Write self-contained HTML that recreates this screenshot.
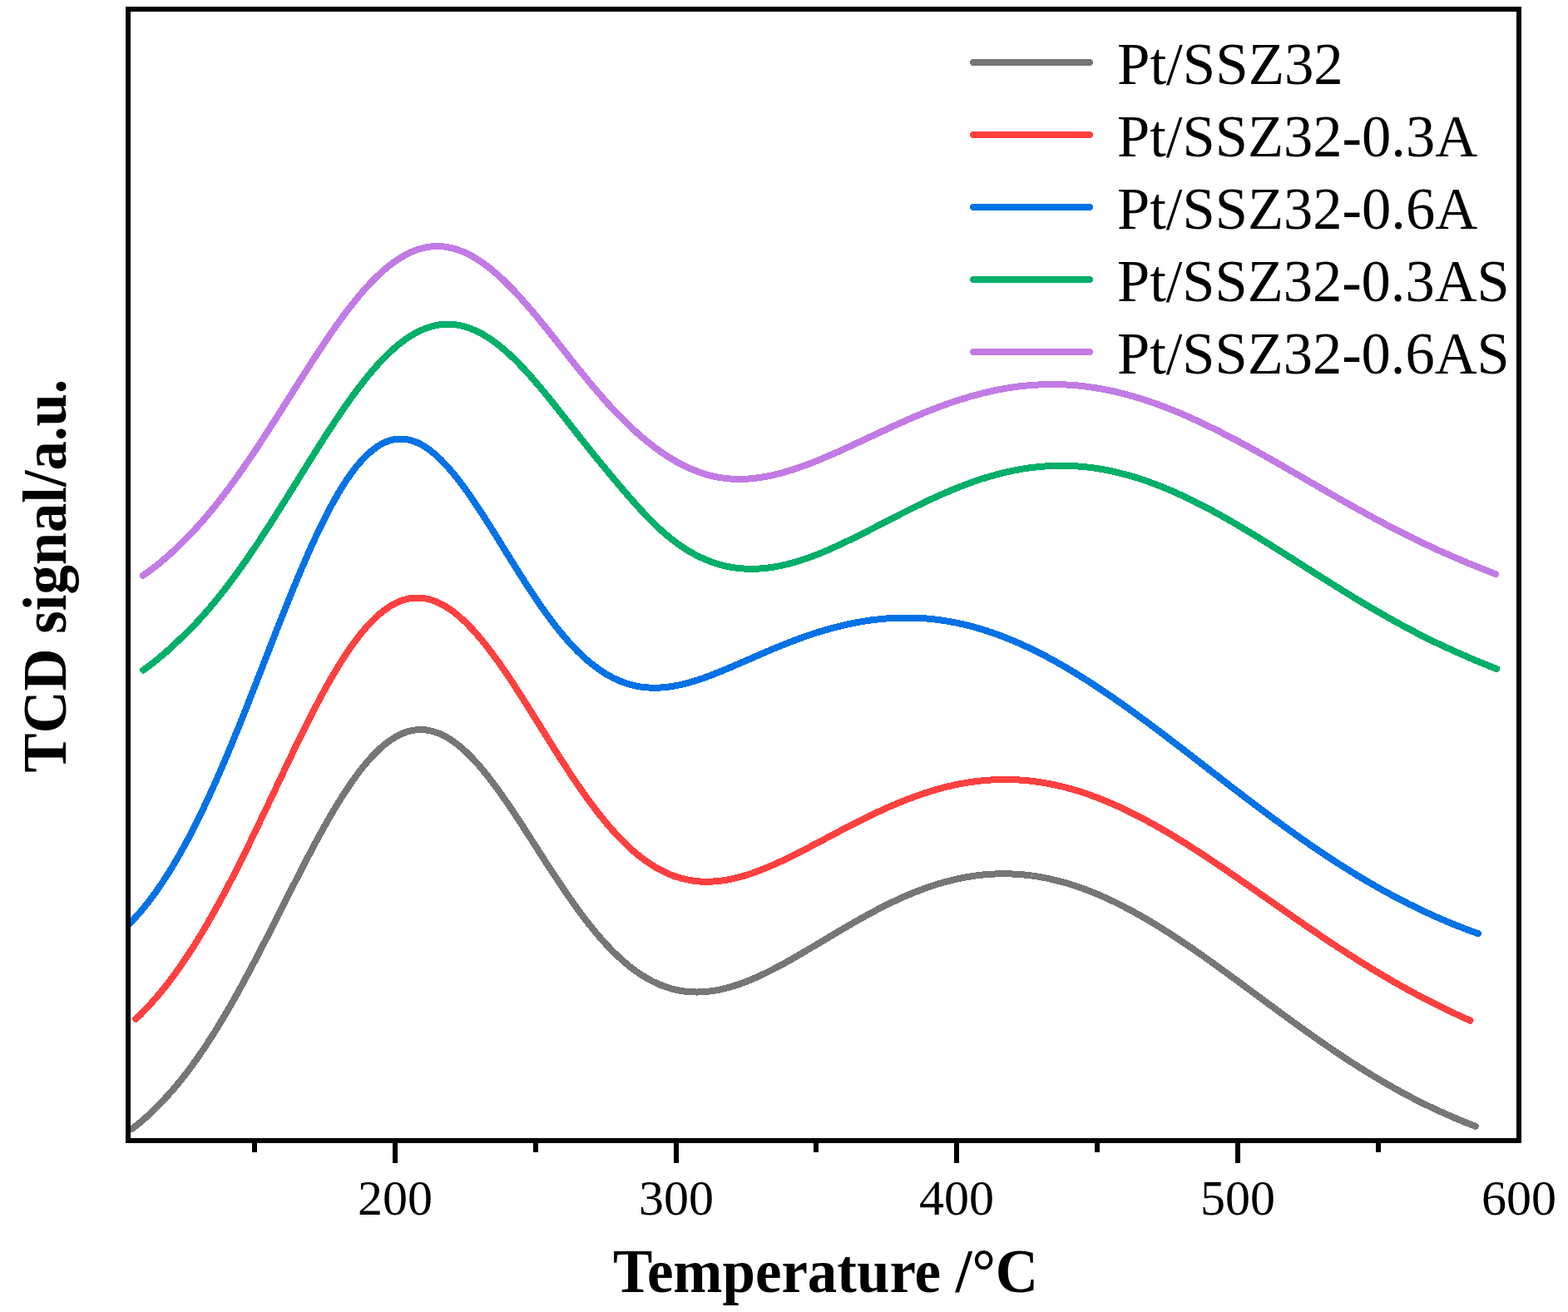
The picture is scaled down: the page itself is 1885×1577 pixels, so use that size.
<!DOCTYPE html>
<html><head><meta charset="utf-8"><style>
html,body{margin:0;padding:0;background:#fff;width:1885px;height:1577px;overflow:hidden}
svg{display:block}
text{font-family:"Liberation Serif","Times New Roman",serif;fill:#000}
</style></head><body>
<svg width="1885" height="1577" viewBox="0 0 1885 1577" shape-rendering="crispEdges">
<rect width="1885" height="1577" fill="#fff"/>
<defs><clipPath id="pa"><rect x="157" y="14" width="1666" height="1354"/></clipPath></defs>
<g fill="none" stroke-width="8" stroke-linecap="round" stroke-linejoin="round" clip-path="url(#pa)">
<path d="M158.5,1357.0 L160.5,1355.5 L162.5,1353.9 L164.5,1352.4 L166.5,1350.7 L168.5,1349.1 L170.5,1347.4 L172.5,1345.7 L174.5,1343.9 L176.5,1342.2 L178.5,1340.3 L180.5,1338.5 L182.5,1336.6 L184.5,1334.7 L186.5,1332.7 L188.5,1330.7 L190.5,1328.7 L192.5,1326.6 L194.5,1324.5 L196.5,1322.4 L198.5,1320.2 L200.5,1318.1 L202.5,1315.9 L204.5,1313.6 L206.5,1311.4 L208.5,1309.1 L210.5,1306.7 L212.5,1304.3 L214.5,1301.9 L216.5,1299.5 L218.5,1297.0 L220.5,1294.4 L222.5,1291.9 L224.5,1289.3 L226.5,1286.6 L228.5,1284.0 L230.5,1281.3 L232.5,1278.5 L234.5,1275.7 L236.5,1272.9 L238.5,1270.1 L240.5,1267.2 L242.5,1264.3 L244.5,1261.3 L246.5,1258.3 L248.5,1255.3 L250.5,1252.2 L252.5,1249.2 L254.5,1246.0 L256.5,1242.9 L258.5,1239.7 L260.5,1236.5 L262.5,1233.2 L264.5,1229.9 L266.5,1226.6 L268.5,1223.3 L270.5,1219.9 L272.5,1216.5 L274.5,1213.1 L276.5,1209.6 L278.5,1206.1 L280.5,1202.6 L282.5,1199.0 L284.5,1195.5 L286.5,1191.9 L288.5,1188.3 L290.5,1184.6 L292.5,1180.9 L294.5,1177.3 L296.5,1173.5 L298.5,1169.8 L300.5,1166.1 L302.5,1162.3 L304.5,1158.5 L306.5,1154.7 L308.5,1150.9 L310.5,1147.0 L312.5,1143.2 L314.5,1139.3 L316.5,1135.4 L318.5,1131.5 L320.5,1127.6 L322.5,1123.7 L324.5,1119.8 L326.5,1115.8 L328.5,1111.9 L330.5,1107.9 L332.5,1104.0 L334.5,1100.0 L336.5,1096.1 L338.5,1092.1 L340.5,1088.2 L342.5,1084.2 L344.5,1080.2 L346.5,1076.3 L348.5,1072.3 L350.5,1068.4 L352.5,1064.4 L354.5,1060.5 L356.5,1056.6 L358.5,1052.7 L360.5,1048.8 L362.5,1044.9 L364.5,1041.0 L366.5,1037.1 L368.5,1033.3 L370.5,1029.5 L372.5,1025.7 L374.5,1021.9 L376.5,1018.1 L378.5,1014.4 L380.5,1010.6 L382.5,1007.0 L384.5,1003.3 L386.5,999.7 L388.5,996.0 L390.5,992.5 L392.5,988.9 L394.5,985.4 L396.5,981.9 L398.5,978.5 L400.5,975.1 L402.5,971.7 L404.5,968.4 L406.5,965.1 L408.5,961.9 L410.5,958.7 L412.5,955.6 L414.5,952.5 L416.5,949.4 L418.5,946.4 L420.5,943.5 L422.5,940.6 L424.5,937.7 L426.5,934.9 L428.5,932.2 L430.5,929.5 L432.5,926.8 L434.5,924.3 L436.5,921.8 L438.5,919.3 L440.5,916.9 L442.5,914.6 L444.5,912.3 L446.5,910.1 L448.5,908.0 L450.5,905.9 L452.5,903.9 L454.5,902.0 L456.5,900.1 L458.5,898.3 L460.5,896.6 L462.5,894.9 L464.5,893.3 L466.5,891.8 L468.5,890.3 L470.5,889.0 L472.5,887.7 L474.5,886.4 L476.5,885.3 L478.5,884.2 L480.5,883.2 L482.5,882.3 L484.5,881.4 L486.5,880.6 L488.5,879.9 L490.5,879.3 L492.5,878.8 L494.5,878.3 L496.5,877.9 L498.5,877.6 L500.5,877.3 L502.5,877.2 L504.5,877.1 L506.5,877.1 L508.5,877.1 L510.5,877.3 L512.5,877.5 L514.5,877.8 L516.5,878.2 L518.5,878.6 L520.5,879.1 L522.5,879.7 L524.5,880.4 L526.5,881.1 L528.5,881.9 L530.5,882.8 L532.5,883.7 L534.5,884.8 L536.5,885.8 L538.5,887.0 L540.5,888.2 L542.5,889.5 L544.5,890.9 L546.5,892.3 L548.5,893.8 L550.5,895.4 L552.5,897.0 L554.5,898.7 L556.5,900.4 L558.5,902.2 L560.5,904.1 L562.5,906.0 L564.5,908.0 L566.5,910.0 L568.5,912.1 L570.5,914.2 L572.5,916.4 L574.5,918.7 L576.5,920.9 L578.5,923.3 L580.5,925.7 L582.5,928.1 L584.5,930.6 L586.5,933.1 L588.5,935.6 L590.5,938.2 L592.5,940.9 L594.5,943.5 L596.5,946.2 L598.5,949.0 L600.5,951.8 L602.5,954.6 L604.5,957.4 L606.5,960.3 L608.5,963.2 L610.5,966.1 L612.5,969.0 L614.5,972.0 L616.5,975.0 L618.5,978.0 L620.5,981.0 L622.5,984.0 L624.5,987.1 L626.5,990.1 L628.5,993.2 L630.5,996.3 L632.5,999.4 L634.5,1002.5 L636.5,1005.6 L638.5,1008.7 L640.5,1011.8 L642.5,1015.0 L644.5,1018.1 L646.5,1021.2 L648.5,1024.3 L650.5,1027.5 L652.5,1030.6 L654.5,1033.7 L656.5,1036.8 L658.5,1039.9 L660.5,1043.0 L662.5,1046.0 L664.5,1049.1 L666.5,1052.2 L668.5,1055.2 L670.5,1058.2 L672.5,1061.2 L674.5,1064.2 L676.5,1067.2 L678.5,1070.1 L680.5,1073.0 L682.5,1075.9 L684.5,1078.8 L686.5,1081.7 L688.5,1084.5 L690.5,1087.3 L692.5,1090.1 L694.5,1092.9 L696.5,1095.6 L698.5,1098.3 L700.5,1101.0 L702.5,1103.6 L704.5,1106.2 L706.5,1108.8 L708.5,1111.3 L710.5,1113.8 L712.5,1116.3 L714.5,1118.8 L716.5,1121.2 L718.5,1123.5 L720.5,1125.9 L722.5,1128.2 L724.5,1130.4 L726.5,1132.7 L728.5,1134.9 L730.5,1137.0 L732.5,1139.1 L734.5,1141.2 L736.5,1143.2 L738.5,1145.2 L740.5,1147.1 L742.5,1149.1 L744.5,1150.9 L746.5,1152.7 L748.5,1154.5 L750.5,1156.3 L752.5,1158.0 L754.5,1159.6 L756.5,1161.3 L758.5,1162.8 L760.5,1164.4 L762.5,1165.9 L764.5,1167.3 L766.5,1168.7 L768.5,1170.1 L770.5,1171.4 L772.5,1172.7 L774.5,1173.9 L776.5,1175.1 L778.5,1176.3 L780.5,1177.4 L782.5,1178.5 L784.5,1179.5 L786.5,1180.5 L788.5,1181.4 L790.5,1182.4 L792.5,1183.2 L794.5,1184.0 L796.5,1184.8 L798.5,1185.6 L800.5,1186.3 L802.5,1186.9 L804.5,1187.6 L806.5,1188.2 L808.5,1188.7 L810.5,1189.2 L812.5,1189.7 L814.5,1190.1 L816.5,1190.5 L818.5,1190.9 L820.5,1191.2 L822.5,1191.5 L824.5,1191.7 L826.5,1191.9 L828.5,1192.1 L830.5,1192.2 L832.5,1192.3 L834.5,1192.4 L836.5,1192.5 L838.5,1192.5 L840.5,1192.4 L842.5,1192.4 L844.5,1192.3 L846.5,1192.2 L848.5,1192.0 L850.5,1191.8 L852.5,1191.6 L854.5,1191.3 L856.5,1191.1 L858.5,1190.8 L860.5,1190.4 L862.5,1190.1 L864.5,1189.7 L866.5,1189.3 L868.5,1188.8 L870.5,1188.3 L872.5,1187.9 L874.5,1187.3 L876.5,1186.8 L878.5,1186.2 L880.5,1185.6 L882.5,1185.0 L884.5,1184.4 L886.5,1183.7 L888.5,1183.0 L890.5,1182.3 L892.5,1181.6 L894.5,1180.8 L896.5,1180.1 L898.5,1179.3 L900.5,1178.5 L902.5,1177.7 L904.5,1176.8 L906.5,1176.0 L908.5,1175.1 L910.5,1174.2 L912.5,1173.3 L914.5,1172.4 L916.5,1171.4 L918.5,1170.5 L920.5,1169.5 L922.5,1168.5 L924.5,1167.5 L926.5,1166.5 L928.5,1165.5 L930.5,1164.5 L932.5,1163.4 L934.5,1162.4 L936.5,1161.3 L938.5,1160.2 L940.5,1159.2 L942.5,1158.1 L944.5,1157.0 L946.5,1155.9 L948.5,1154.7 L950.5,1153.6 L952.5,1152.5 L954.5,1151.3 L956.5,1150.2 L958.5,1149.0 L960.5,1147.9 L962.5,1146.7 L964.5,1145.5 L966.5,1144.4 L968.5,1143.2 L970.5,1142.0 L972.5,1140.8 L974.5,1139.6 L976.5,1138.4 L978.5,1137.3 L980.5,1136.1 L982.5,1134.9 L984.5,1133.7 L986.5,1132.5 L988.5,1131.3 L990.5,1130.1 L992.5,1128.9 L994.5,1127.7 L996.5,1126.5 L998.5,1125.3 L1000.5,1124.1 L1002.5,1122.9 L1004.5,1121.7 L1006.5,1120.5 L1008.5,1119.3 L1010.5,1118.2 L1012.5,1117.0 L1014.5,1115.8 L1016.5,1114.6 L1018.5,1113.5 L1020.5,1112.3 L1022.5,1111.1 L1024.5,1110.0 L1026.5,1108.8 L1028.5,1107.7 L1030.5,1106.6 L1032.5,1105.4 L1034.5,1104.3 L1036.5,1103.2 L1038.5,1102.1 L1040.5,1101.0 L1042.5,1099.9 L1044.5,1098.8 L1046.5,1097.7 L1048.5,1096.6 L1050.5,1095.6 L1052.5,1094.5 L1054.5,1093.5 L1056.5,1092.4 L1058.5,1091.4 L1060.5,1090.4 L1062.5,1089.4 L1064.5,1088.4 L1066.5,1087.4 L1068.5,1086.4 L1070.5,1085.4 L1072.5,1084.4 L1074.5,1083.5 L1076.5,1082.6 L1078.5,1081.6 L1080.5,1080.7 L1082.5,1079.8 L1084.5,1078.9 L1086.5,1078.0 L1088.5,1077.1 L1090.5,1076.3 L1092.5,1075.4 L1094.5,1074.6 L1096.5,1073.8 L1098.5,1073.0 L1100.5,1072.1 L1102.5,1071.4 L1104.5,1070.6 L1106.5,1069.8 L1108.5,1069.1 L1110.5,1068.3 L1112.5,1067.6 L1114.5,1066.9 L1116.5,1066.2 L1118.5,1065.5 L1120.5,1064.9 L1122.5,1064.2 L1124.5,1063.6 L1126.5,1062.9 L1128.5,1062.3 L1130.5,1061.7 L1132.5,1061.1 L1134.5,1060.6 L1136.5,1060.0 L1138.5,1059.5 L1140.5,1059.0 L1142.5,1058.4 L1144.5,1057.9 L1146.5,1057.5 L1148.5,1057.0 L1150.5,1056.6 L1152.5,1056.1 L1154.5,1055.7 L1156.5,1055.3 L1158.5,1054.9 L1160.5,1054.5 L1162.5,1054.2 L1164.5,1053.8 L1166.5,1053.5 L1168.5,1053.2 L1170.5,1052.9 L1172.5,1052.6 L1174.5,1052.3 L1176.5,1052.1 L1178.5,1051.9 L1180.5,1051.6 L1182.5,1051.4 L1184.5,1051.3 L1186.5,1051.1 L1188.5,1050.9 L1190.5,1050.8 L1192.5,1050.7 L1194.5,1050.6 L1196.5,1050.5 L1198.5,1050.4 L1200.5,1050.3 L1202.5,1050.3 L1204.5,1050.3 L1206.5,1050.3 L1208.5,1050.3 L1210.5,1050.3 L1212.5,1050.3 L1214.5,1050.4 L1216.5,1050.5 L1218.5,1050.6 L1220.5,1050.7 L1222.5,1050.8 L1224.5,1050.9 L1226.5,1051.1 L1228.5,1051.2 L1230.5,1051.4 L1232.5,1051.6 L1234.5,1051.8 L1236.5,1052.1 L1238.5,1052.3 L1240.5,1052.6 L1242.5,1052.8 L1244.5,1053.1 L1246.5,1053.4 L1248.5,1053.8 L1250.5,1054.1 L1252.5,1054.5 L1254.5,1054.8 L1256.5,1055.2 L1258.5,1055.6 L1260.5,1056.0 L1262.5,1056.5 L1264.5,1056.9 L1266.5,1057.4 L1268.5,1057.9 L1270.5,1058.4 L1272.5,1058.9 L1274.5,1059.4 L1276.5,1059.9 L1278.5,1060.5 L1280.5,1061.0 L1282.5,1061.6 L1284.5,1062.2 L1286.5,1062.8 L1288.5,1063.5 L1290.5,1064.1 L1292.5,1064.8 L1294.5,1065.4 L1296.5,1066.1 L1298.5,1066.8 L1300.5,1067.5 L1302.5,1068.2 L1304.5,1069.0 L1306.5,1069.7 L1308.5,1070.5 L1310.5,1071.3 L1312.5,1072.1 L1314.5,1072.9 L1316.5,1073.7 L1318.5,1074.5 L1320.5,1075.4 L1322.5,1076.2 L1324.5,1077.1 L1326.5,1078.0 L1328.5,1078.9 L1330.5,1079.8 L1332.5,1080.7 L1334.5,1081.6 L1336.5,1082.6 L1338.5,1083.5 L1340.5,1084.5 L1342.5,1085.5 L1344.5,1086.5 L1346.5,1087.5 L1348.5,1088.5 L1350.5,1089.5 L1352.5,1090.5 L1354.5,1091.6 L1356.5,1092.6 L1358.5,1093.7 L1360.5,1094.8 L1362.5,1095.9 L1364.5,1097.0 L1366.5,1098.1 L1368.5,1099.2 L1370.5,1100.3 L1372.5,1101.5 L1374.5,1102.6 L1376.5,1103.8 L1378.5,1104.9 L1380.5,1106.1 L1382.5,1107.3 L1384.5,1108.5 L1386.5,1109.7 L1388.5,1110.9 L1390.5,1112.1 L1392.5,1113.4 L1394.5,1114.6 L1396.5,1115.9 L1398.5,1117.1 L1400.5,1118.4 L1402.5,1119.7 L1404.5,1120.9 L1406.5,1122.2 L1408.5,1123.5 L1410.5,1124.8 L1412.5,1126.1 L1414.5,1127.4 L1416.5,1128.8 L1418.5,1130.1 L1420.5,1131.4 L1422.5,1132.8 L1424.5,1134.1 L1426.5,1135.5 L1428.5,1136.8 L1430.5,1138.2 L1432.5,1139.6 L1434.5,1140.9 L1436.5,1142.3 L1438.5,1143.7 L1440.5,1145.1 L1442.5,1146.5 L1444.5,1147.9 L1446.5,1149.3 L1448.5,1150.7 L1450.5,1152.1 L1452.5,1153.6 L1454.5,1155.0 L1456.5,1156.4 L1458.5,1157.8 L1460.5,1159.3 L1462.5,1160.7 L1464.5,1162.2 L1466.5,1163.6 L1468.5,1165.1 L1470.5,1166.5 L1472.5,1168.0 L1474.5,1169.4 L1476.5,1170.9 L1478.5,1172.3 L1480.5,1173.8 L1482.5,1175.3 L1484.5,1176.7 L1486.5,1178.2 L1488.5,1179.7 L1490.5,1181.1 L1492.5,1182.6 L1494.5,1184.1 L1496.5,1185.6 L1498.5,1187.1 L1500.5,1188.5 L1502.5,1190.0 L1504.5,1191.5 L1506.5,1193.0 L1508.5,1194.4 L1510.5,1195.9 L1512.5,1197.4 L1514.5,1198.9 L1516.5,1200.4 L1518.5,1201.8 L1520.5,1203.3 L1522.5,1204.8 L1524.5,1206.3 L1526.5,1207.8 L1528.5,1209.2 L1530.5,1210.7 L1532.5,1212.2 L1534.5,1213.7 L1536.5,1215.1 L1538.5,1216.6 L1540.5,1218.1 L1542.5,1219.5 L1544.5,1221.0 L1546.5,1222.5 L1548.5,1223.9 L1550.5,1225.4 L1552.5,1226.8 L1554.5,1228.3 L1556.5,1229.7 L1558.5,1231.2 L1560.5,1232.6 L1562.5,1234.1 L1564.5,1235.5 L1566.5,1236.9 L1568.5,1238.4 L1570.5,1239.8 L1572.5,1241.2 L1574.5,1242.6 L1576.5,1244.0 L1578.5,1245.5 L1580.5,1246.9 L1582.5,1248.3 L1584.5,1249.7 L1586.5,1251.1 L1588.5,1252.5 L1590.5,1253.8 L1592.5,1255.2 L1594.5,1256.6 L1596.5,1258.0 L1598.5,1259.3 L1600.5,1260.7 L1602.5,1262.1 L1604.5,1263.4 L1606.5,1264.8 L1608.5,1266.1 L1610.5,1267.5 L1612.5,1268.8 L1614.5,1270.1 L1616.5,1271.4 L1618.5,1272.8 L1620.5,1274.1 L1622.5,1275.4 L1624.5,1276.7 L1626.5,1278.0 L1628.5,1279.2 L1630.5,1280.5 L1632.5,1281.8 L1634.5,1283.1 L1636.5,1284.3 L1638.5,1285.6 L1640.5,1286.8 L1642.5,1288.1 L1644.5,1289.3 L1646.5,1290.5 L1648.5,1291.8 L1650.5,1293.0 L1652.5,1294.2 L1654.5,1295.4 L1656.5,1296.6 L1658.5,1297.8 L1660.5,1299.0 L1662.5,1300.1 L1664.5,1301.3 L1666.5,1302.5 L1668.5,1303.6 L1670.5,1304.8 L1672.5,1305.9 L1674.5,1307.0 L1676.5,1308.2 L1678.5,1309.3 L1680.5,1310.4 L1682.5,1311.5 L1684.5,1312.6 L1686.5,1313.7 L1688.5,1314.7 L1690.5,1315.8 L1692.5,1316.9 L1694.5,1317.9 L1696.5,1319.0 L1698.5,1320.0 L1700.5,1321.1 L1702.5,1322.1 L1704.5,1323.1 L1706.5,1324.1 L1708.5,1325.1 L1710.5,1326.1 L1712.5,1327.1 L1714.5,1328.1 L1716.5,1329.0 L1718.5,1330.0 L1720.5,1330.9 L1722.5,1331.9 L1724.5,1332.8 L1726.5,1333.7 L1728.5,1334.7 L1730.5,1335.6 L1732.5,1336.5 L1734.5,1337.4 L1736.5,1338.3 L1738.5,1339.2 L1740.5,1340.1 L1742.5,1341.0 L1744.5,1341.8 L1746.5,1342.7 L1748.5,1343.6 L1750.5,1344.4 L1752.5,1345.3 L1754.5,1346.1 L1756.5,1346.9 L1758.5,1347.7 L1760.5,1348.6 L1762.5,1349.4 L1764.5,1350.2 L1766.5,1350.9 L1768.5,1351.7 L1770.5,1352.5 L1772.5,1353.2 L1773.7,1353.7" stroke="#767676"/>
<path d="M163.4,1224.8 L165.4,1222.9 L167.4,1220.9 L169.4,1219.0 L171.4,1216.9 L173.4,1214.9 L175.4,1212.8 L177.4,1210.7 L179.4,1208.5 L181.4,1206.3 L183.4,1204.1 L185.4,1201.8 L187.4,1199.5 L189.4,1197.2 L191.4,1194.8 L193.4,1192.4 L195.4,1190.0 L197.4,1187.5 L199.4,1185.0 L201.4,1182.4 L203.4,1179.8 L205.4,1177.2 L207.4,1174.5 L209.4,1171.8 L211.4,1169.1 L213.4,1166.3 L215.4,1163.5 L217.4,1160.6 L219.4,1157.7 L221.4,1154.8 L223.4,1151.8 L225.4,1148.8 L227.4,1145.8 L229.4,1142.7 L231.4,1139.6 L233.4,1136.5 L235.4,1133.3 L237.4,1130.1 L239.4,1126.8 L241.4,1123.5 L243.4,1120.2 L245.4,1116.8 L247.4,1113.4 L249.4,1110.0 L251.4,1106.5 L253.4,1103.0 L255.4,1099.5 L257.4,1096.0 L259.4,1092.4 L261.4,1088.7 L263.4,1085.1 L265.4,1081.4 L267.4,1077.7 L269.4,1074.0 L271.4,1070.2 L273.4,1066.4 L275.4,1062.6 L277.4,1058.7 L279.4,1054.8 L281.4,1050.9 L283.4,1047.0 L285.4,1043.0 L287.4,1039.1 L289.4,1035.1 L291.4,1031.1 L293.4,1027.0 L295.4,1023.0 L297.4,1018.9 L299.4,1014.8 L301.4,1010.7 L303.4,1006.6 L305.4,1002.4 L307.4,998.3 L309.4,994.1 L311.4,989.9 L313.4,985.7 L315.4,981.5 L317.4,977.3 L319.4,973.1 L321.4,968.9 L323.4,964.7 L325.4,960.5 L327.4,956.2 L329.4,952.0 L331.4,947.8 L333.4,943.5 L335.4,939.3 L337.4,935.1 L339.4,930.9 L341.4,926.7 L343.4,922.4 L345.4,918.2 L347.4,914.1 L349.4,909.9 L351.4,905.7 L353.4,901.6 L355.4,897.4 L357.4,893.3 L359.4,889.2 L361.4,885.1 L363.4,881.1 L365.4,877.0 L367.4,873.0 L369.4,869.0 L371.4,865.1 L373.4,861.1 L375.4,857.2 L377.4,853.4 L379.4,849.5 L381.4,845.7 L383.4,841.9 L385.4,838.2 L387.4,834.5 L389.4,830.8 L391.4,827.2 L393.4,823.6 L395.4,820.0 L397.4,816.5 L399.4,813.1 L401.4,809.7 L403.4,806.3 L405.4,803.0 L407.4,799.7 L409.4,796.5 L411.4,793.3 L413.4,790.2 L415.4,787.2 L417.4,784.2 L419.4,781.2 L421.4,778.3 L423.4,775.5 L425.4,772.7 L427.4,770.0 L429.4,767.4 L431.4,764.8 L433.4,762.3 L435.4,759.8 L437.4,757.4 L439.4,755.1 L441.4,752.8 L443.4,750.6 L445.4,748.5 L447.4,746.4 L449.4,744.4 L451.4,742.5 L453.4,740.7 L455.4,738.9 L457.4,737.2 L459.4,735.5 L461.4,734.0 L463.4,732.5 L465.4,731.1 L467.4,729.7 L469.4,728.5 L471.4,727.3 L473.4,726.2 L475.4,725.1 L477.4,724.2 L479.4,723.3 L481.4,722.4 L483.4,721.7 L485.4,721.1 L487.4,720.5 L489.4,720.0 L491.4,719.5 L493.4,719.2 L495.4,718.9 L497.4,718.7 L499.4,718.6 L501.4,718.5 L503.4,718.5 L505.4,718.6 L507.4,718.8 L509.4,719.0 L511.4,719.4 L513.4,719.8 L515.4,720.2 L517.4,720.8 L519.4,721.4 L521.4,722.1 L523.4,722.8 L525.4,723.6 L527.4,724.5 L529.4,725.5 L531.4,726.5 L533.4,727.6 L535.4,728.8 L537.4,730.0 L539.4,731.3 L541.4,732.7 L543.4,734.1 L545.4,735.6 L547.4,737.2 L549.4,738.8 L551.4,740.5 L553.4,742.2 L555.4,744.0 L557.4,745.8 L559.4,747.7 L561.4,749.7 L563.4,751.7 L565.4,753.8 L567.4,755.9 L569.4,758.1 L571.4,760.3 L573.4,762.6 L575.4,764.9 L577.4,767.3 L579.4,769.7 L581.4,772.1 L583.4,774.6 L585.4,777.2 L587.4,779.8 L589.4,782.4 L591.4,785.0 L593.4,787.7 L595.4,790.5 L597.4,793.2 L599.4,796.0 L601.4,798.9 L603.4,801.7 L605.4,804.6 L607.4,807.5 L609.4,810.5 L611.4,813.5 L613.4,816.5 L615.4,819.5 L617.4,822.5 L619.4,825.6 L621.4,828.7 L623.4,831.8 L625.4,834.9 L627.4,838.0 L629.4,841.1 L631.4,844.3 L633.4,847.5 L635.4,850.6 L637.4,853.8 L639.4,857.0 L641.4,860.2 L643.4,863.4 L645.4,866.6 L647.4,869.8 L649.4,873.0 L651.4,876.2 L653.4,879.4 L655.4,882.7 L657.4,885.9 L659.4,889.1 L661.4,892.2 L663.4,895.4 L665.4,898.6 L667.4,901.8 L669.4,904.9 L671.4,908.1 L673.4,911.2 L675.4,914.3 L677.4,917.4 L679.4,920.5 L681.4,923.6 L683.4,926.6 L685.4,929.7 L687.4,932.7 L689.4,935.7 L691.4,938.6 L693.4,941.6 L695.4,944.5 L697.4,947.4 L699.4,950.3 L701.4,953.1 L703.4,955.9 L705.4,958.7 L707.4,961.5 L709.4,964.2 L711.4,966.9 L713.4,969.6 L715.4,972.2 L717.4,974.8 L719.4,977.4 L721.4,980.0 L723.4,982.5 L725.4,984.9 L727.4,987.4 L729.4,989.8 L731.4,992.1 L733.4,994.5 L735.4,996.8 L737.4,999.0 L739.4,1001.2 L741.4,1003.4 L743.4,1005.5 L745.4,1007.6 L747.4,1009.7 L749.4,1011.7 L751.4,1013.7 L753.4,1015.6 L755.4,1017.5 L757.4,1019.3 L759.4,1021.1 L761.4,1022.9 L763.4,1024.6 L765.4,1026.3 L767.4,1027.9 L769.4,1029.5 L771.4,1031.1 L773.4,1032.6 L775.4,1034.1 L777.4,1035.5 L779.4,1036.9 L781.4,1038.2 L783.4,1039.5 L785.4,1040.8 L787.4,1042.0 L789.4,1043.2 L791.4,1044.3 L793.4,1045.4 L795.4,1046.4 L797.4,1047.4 L799.4,1048.4 L801.4,1049.3 L803.4,1050.2 L805.4,1051.0 L807.4,1051.8 L809.4,1052.6 L811.4,1053.3 L813.4,1054.0 L815.4,1054.6 L817.4,1055.2 L819.4,1055.8 L821.4,1056.3 L823.4,1056.8 L825.4,1057.2 L827.4,1057.6 L829.4,1058.0 L831.4,1058.3 L833.4,1058.6 L835.4,1058.9 L837.4,1059.1 L839.4,1059.3 L841.4,1059.5 L843.4,1059.6 L845.4,1059.7 L847.4,1059.7 L849.4,1059.8 L851.4,1059.7 L853.4,1059.7 L855.4,1059.6 L857.4,1059.5 L859.4,1059.4 L861.4,1059.2 L863.4,1059.0 L865.4,1058.8 L867.4,1058.6 L869.4,1058.3 L871.4,1058.0 L873.4,1057.7 L875.4,1057.3 L877.4,1056.9 L879.4,1056.5 L881.4,1056.1 L883.4,1055.6 L885.4,1055.1 L887.4,1054.6 L889.4,1054.1 L891.4,1053.6 L893.4,1053.0 L895.4,1052.4 L897.4,1051.8 L899.4,1051.2 L901.4,1050.5 L903.4,1049.8 L905.4,1049.1 L907.4,1048.4 L909.4,1047.7 L911.4,1047.0 L913.4,1046.2 L915.4,1045.4 L917.4,1044.6 L919.4,1043.8 L921.4,1043.0 L923.4,1042.2 L925.4,1041.3 L927.4,1040.5 L929.4,1039.6 L931.4,1038.7 L933.4,1037.8 L935.4,1036.9 L937.4,1036.0 L939.4,1035.1 L941.4,1034.1 L943.4,1033.2 L945.4,1032.2 L947.4,1031.3 L949.4,1030.3 L951.4,1029.3 L953.4,1028.3 L955.4,1027.3 L957.4,1026.3 L959.4,1025.3 L961.4,1024.3 L963.4,1023.3 L965.4,1022.2 L967.4,1021.2 L969.4,1020.2 L971.4,1019.1 L973.4,1018.1 L975.4,1017.0 L977.4,1016.0 L979.4,1014.9 L981.4,1013.9 L983.4,1012.8 L985.4,1011.8 L987.4,1010.7 L989.4,1009.7 L991.4,1008.6 L993.4,1007.5 L995.4,1006.5 L997.4,1005.4 L999.4,1004.3 L1001.4,1003.3 L1003.4,1002.2 L1005.4,1001.2 L1007.4,1000.1 L1009.4,999.1 L1011.4,998.0 L1013.4,997.0 L1015.4,995.9 L1017.4,994.9 L1019.4,993.8 L1021.4,992.8 L1023.4,991.8 L1025.4,990.7 L1027.4,989.7 L1029.4,988.7 L1031.4,987.7 L1033.4,986.7 L1035.4,985.7 L1037.4,984.7 L1039.4,983.7 L1041.4,982.7 L1043.4,981.7 L1045.4,980.8 L1047.4,979.8 L1049.4,978.8 L1051.4,977.9 L1053.4,976.9 L1055.4,976.0 L1057.4,975.1 L1059.4,974.1 L1061.4,973.2 L1063.4,972.3 L1065.4,971.4 L1067.4,970.5 L1069.4,969.6 L1071.4,968.8 L1073.4,967.9 L1075.4,967.1 L1077.4,966.2 L1079.4,965.4 L1081.4,964.6 L1083.4,963.7 L1085.4,962.9 L1087.4,962.1 L1089.4,961.4 L1091.4,960.6 L1093.4,959.8 L1095.4,959.1 L1097.4,958.3 L1099.4,957.6 L1101.4,956.9 L1103.4,956.2 L1105.4,955.5 L1107.4,954.8 L1109.4,954.1 L1111.4,953.4 L1113.4,952.8 L1115.4,952.1 L1117.4,951.5 L1119.4,950.9 L1121.4,950.3 L1123.4,949.7 L1125.4,949.1 L1127.4,948.6 L1129.4,948.0 L1131.4,947.5 L1133.4,946.9 L1135.4,946.4 L1137.4,945.9 L1139.4,945.4 L1141.4,944.9 L1143.4,944.5 L1145.4,944.0 L1147.4,943.6 L1149.4,943.2 L1151.4,942.8 L1153.4,942.4 L1155.4,942.0 L1157.4,941.6 L1159.4,941.3 L1161.4,940.9 L1163.4,940.6 L1165.4,940.3 L1167.4,940.0 L1169.4,939.7 L1171.4,939.4 L1173.4,939.2 L1175.4,938.9 L1177.4,938.7 L1179.4,938.5 L1181.4,938.3 L1183.4,938.1 L1185.4,937.9 L1187.4,937.8 L1189.4,937.6 L1191.4,937.5 L1193.4,937.4 L1195.4,937.3 L1197.4,937.2 L1199.4,937.1 L1201.4,937.1 L1203.4,937.0 L1205.4,937.0 L1207.4,937.0 L1209.4,937.0 L1211.4,937.0 L1213.4,937.0 L1215.4,937.1 L1217.4,937.1 L1219.4,937.2 L1221.4,937.3 L1223.4,937.4 L1225.4,937.5 L1227.4,937.6 L1229.4,937.8 L1231.4,937.9 L1233.4,938.1 L1235.4,938.3 L1237.4,938.5 L1239.4,938.7 L1241.4,939.0 L1243.4,939.2 L1245.4,939.5 L1247.4,939.8 L1249.4,940.1 L1251.4,940.4 L1253.4,940.7 L1255.4,941.0 L1257.4,941.4 L1259.4,941.7 L1261.4,942.1 L1263.4,942.5 L1265.4,942.9 L1267.4,943.3 L1269.4,943.7 L1271.4,944.2 L1273.4,944.7 L1275.4,945.1 L1277.4,945.6 L1279.4,946.1 L1281.4,946.6 L1283.4,947.2 L1285.4,947.7 L1287.4,948.3 L1289.4,948.8 L1291.4,949.4 L1293.4,950.0 L1295.4,950.6 L1297.4,951.2 L1299.4,951.9 L1301.4,952.5 L1303.4,953.2 L1305.4,953.8 L1307.4,954.5 L1309.4,955.2 L1311.4,955.9 L1313.4,956.7 L1315.4,957.4 L1317.4,958.1 L1319.4,958.9 L1321.4,959.7 L1323.4,960.5 L1325.4,961.3 L1327.4,962.1 L1329.4,962.9 L1331.4,963.7 L1333.4,964.6 L1335.4,965.4 L1337.4,966.3 L1339.4,967.2 L1341.4,968.0 L1343.4,968.9 L1345.4,969.9 L1347.4,970.8 L1349.4,971.7 L1351.4,972.6 L1353.4,973.6 L1355.4,974.6 L1357.4,975.5 L1359.4,976.5 L1361.4,977.5 L1363.4,978.5 L1365.4,979.5 L1367.4,980.6 L1369.4,981.6 L1371.4,982.6 L1373.4,983.7 L1375.4,984.7 L1377.4,985.8 L1379.4,986.9 L1381.4,988.0 L1383.4,989.1 L1385.4,990.2 L1387.4,991.3 L1389.4,992.4 L1391.4,993.6 L1393.4,994.7 L1395.4,995.8 L1397.4,997.0 L1399.4,998.2 L1401.4,999.3 L1403.4,1000.5 L1405.4,1001.7 L1407.4,1002.9 L1409.4,1004.1 L1411.4,1005.3 L1413.4,1006.5 L1415.4,1007.7 L1417.4,1009.0 L1419.4,1010.2 L1421.4,1011.4 L1423.4,1012.7 L1425.4,1013.9 L1427.4,1015.2 L1429.4,1016.5 L1431.4,1017.7 L1433.4,1019.0 L1435.4,1020.3 L1437.4,1021.6 L1439.4,1022.9 L1441.4,1024.2 L1443.4,1025.5 L1445.4,1026.8 L1447.4,1028.1 L1449.4,1029.4 L1451.4,1030.7 L1453.4,1032.1 L1455.4,1033.4 L1457.4,1034.7 L1459.4,1036.1 L1461.4,1037.4 L1463.4,1038.8 L1465.4,1040.1 L1467.4,1041.5 L1469.4,1042.8 L1471.4,1044.2 L1473.4,1045.6 L1475.4,1046.9 L1477.4,1048.3 L1479.4,1049.7 L1481.4,1051.1 L1483.4,1052.4 L1485.4,1053.8 L1487.4,1055.2 L1489.4,1056.6 L1491.4,1058.0 L1493.4,1059.4 L1495.4,1060.7 L1497.4,1062.1 L1499.4,1063.5 L1501.4,1064.9 L1503.4,1066.3 L1505.4,1067.7 L1507.4,1069.1 L1509.4,1070.5 L1511.4,1071.9 L1513.4,1073.3 L1515.4,1074.7 L1517.4,1076.1 L1519.4,1077.5 L1521.4,1078.9 L1523.4,1080.3 L1525.4,1081.7 L1527.4,1083.1 L1529.4,1084.5 L1531.4,1085.9 L1533.4,1087.3 L1535.4,1088.7 L1537.4,1090.1 L1539.4,1091.5 L1541.4,1092.9 L1543.4,1094.3 L1545.4,1095.7 L1547.4,1097.1 L1549.4,1098.5 L1551.4,1099.9 L1553.4,1101.3 L1555.4,1102.7 L1557.4,1104.1 L1559.4,1105.5 L1561.4,1106.9 L1563.4,1108.2 L1565.4,1109.6 L1567.4,1111.0 L1569.4,1112.4 L1571.4,1113.7 L1573.4,1115.1 L1575.4,1116.5 L1577.4,1117.9 L1579.4,1119.2 L1581.4,1120.6 L1583.4,1121.9 L1585.4,1123.3 L1587.4,1124.6 L1589.4,1126.0 L1591.4,1127.3 L1593.4,1128.7 L1595.4,1130.0 L1597.4,1131.3 L1599.4,1132.7 L1601.4,1134.0 L1603.4,1135.3 L1605.4,1136.6 L1607.4,1138.0 L1609.4,1139.3 L1611.4,1140.6 L1613.4,1141.9 L1615.4,1143.2 L1617.4,1144.5 L1619.4,1145.8 L1621.4,1147.1 L1623.4,1148.3 L1625.4,1149.6 L1627.4,1150.9 L1629.4,1152.2 L1631.4,1153.4 L1633.4,1154.7 L1635.4,1156.0 L1637.4,1157.2 L1639.4,1158.4 L1641.4,1159.7 L1643.4,1160.9 L1645.4,1162.2 L1647.4,1163.4 L1649.4,1164.6 L1651.4,1165.8 L1653.4,1167.0 L1655.4,1168.2 L1657.4,1169.4 L1659.4,1170.6 L1661.4,1171.8 L1663.4,1173.0 L1665.4,1174.2 L1667.4,1175.3 L1669.4,1176.5 L1671.4,1177.7 L1673.4,1178.8 L1675.4,1180.0 L1677.4,1181.1 L1679.4,1182.3 L1681.4,1183.4 L1683.4,1184.5 L1685.4,1185.6 L1687.4,1186.8 L1689.4,1187.9 L1691.4,1189.0 L1693.4,1190.1 L1695.4,1191.2 L1697.4,1192.3 L1699.4,1193.3 L1701.4,1194.4 L1703.4,1195.5 L1705.4,1196.5 L1707.4,1197.6 L1709.4,1198.6 L1711.4,1199.7 L1713.4,1200.7 L1715.4,1201.7 L1717.4,1202.8 L1719.4,1203.8 L1721.4,1204.8 L1723.4,1205.8 L1725.4,1206.8 L1727.4,1207.8 L1729.4,1208.8 L1731.4,1209.8 L1733.4,1210.8 L1735.4,1211.8 L1737.4,1212.8 L1739.4,1213.7 L1741.4,1214.7 L1743.4,1215.7 L1745.4,1216.6 L1747.4,1217.6 L1749.4,1218.5 L1751.4,1219.4 L1753.4,1220.4 L1755.4,1221.3 L1757.4,1222.2 L1759.4,1223.1 L1761.4,1224.0 L1763.4,1224.9 L1765.4,1225.8 L1767.4,1226.7" stroke="#FF4040"/>
<path d="M148.0,1117.8 L150.0,1115.9 L152.0,1114.0 L154.0,1112.0 L156.0,1110.0 L158.0,1107.9 L160.0,1105.8 L162.0,1103.6 L164.0,1101.4 L166.0,1099.2 L168.0,1096.9 L170.0,1094.5 L172.0,1092.1 L174.0,1089.7 L176.0,1087.2 L178.0,1084.6 L180.0,1082.0 L182.0,1079.4 L184.0,1076.7 L186.0,1073.9 L188.0,1071.2 L190.0,1068.3 L192.0,1065.4 L194.0,1062.5 L196.0,1059.5 L198.0,1056.4 L200.0,1053.4 L202.0,1050.2 L204.0,1047.0 L206.0,1043.8 L208.0,1040.5 L210.0,1037.1 L212.0,1033.7 L214.0,1030.3 L216.0,1026.8 L218.0,1023.2 L220.0,1019.6 L222.0,1016.0 L224.0,1012.3 L226.0,1008.6 L228.0,1004.8 L230.0,1000.9 L232.0,997.0 L234.0,993.1 L236.0,989.1 L238.0,985.1 L240.0,981.0 L242.0,976.9 L244.0,972.7 L246.0,968.5 L248.0,964.2 L250.0,959.9 L252.0,955.6 L254.0,951.2 L256.0,946.8 L258.0,942.3 L260.0,937.8 L262.0,933.3 L264.0,928.7 L266.0,924.1 L268.0,919.4 L270.0,914.7 L272.0,910.0 L274.0,905.2 L276.0,900.5 L278.0,895.6 L280.0,890.8 L282.0,885.9 L284.0,881.0 L286.0,876.1 L288.0,871.1 L290.0,866.2 L292.0,861.2 L294.0,856.1 L296.0,851.1 L298.0,846.1 L300.0,841.0 L302.0,835.9 L304.0,830.8 L306.0,825.7 L308.0,820.6 L310.0,815.4 L312.0,810.3 L314.0,805.2 L316.0,800.0 L318.0,794.9 L320.0,789.8 L322.0,784.6 L324.0,779.5 L326.0,774.3 L328.0,769.2 L330.0,764.1 L332.0,759.0 L334.0,753.9 L336.0,748.8 L338.0,743.8 L340.0,738.7 L342.0,733.7 L344.0,728.7 L346.0,723.7 L348.0,718.7 L350.0,713.8 L352.0,708.9 L354.0,704.0 L356.0,699.2 L358.0,694.4 L360.0,689.6 L362.0,684.9 L364.0,680.2 L366.0,675.6 L368.0,671.0 L370.0,666.4 L372.0,661.9 L374.0,657.4 L376.0,653.0 L378.0,648.7 L380.0,644.4 L382.0,640.1 L384.0,635.9 L386.0,631.8 L388.0,627.7 L390.0,623.7 L392.0,619.8 L394.0,615.9 L396.0,612.1 L398.0,608.4 L400.0,604.7 L402.0,601.1 L404.0,597.6 L406.0,594.1 L408.0,590.7 L410.0,587.4 L412.0,584.2 L414.0,581.1 L416.0,578.0 L418.0,575.0 L420.0,572.2 L422.0,569.3 L424.0,566.6 L426.0,564.0 L428.0,561.4 L430.0,559.0 L432.0,556.6 L434.0,554.3 L436.0,552.1 L438.0,550.0 L440.0,548.0 L442.0,546.1 L444.0,544.3 L446.0,542.5 L448.0,540.9 L450.0,539.4 L452.0,537.9 L454.0,536.6 L456.0,535.3 L458.0,534.1 L460.0,533.1 L462.0,532.1 L464.0,531.2 L466.0,530.4 L468.0,529.7 L470.0,529.1 L472.0,528.6 L474.0,528.2 L476.0,527.9 L478.0,527.7 L480.0,527.6 L482.0,527.6 L484.0,527.6 L486.0,527.8 L488.0,528.0 L490.0,528.4 L492.0,528.8 L494.0,529.3 L496.0,529.9 L498.0,530.6 L500.0,531.4 L502.0,532.2 L504.0,533.2 L506.0,534.2 L508.0,535.3 L510.0,536.5 L512.0,537.8 L514.0,539.1 L516.0,540.6 L518.0,542.1 L520.0,543.7 L522.0,545.3 L524.0,547.0 L526.0,548.8 L528.0,550.7 L530.0,552.6 L532.0,554.7 L534.0,556.7 L536.0,558.8 L538.0,561.0 L540.0,563.3 L542.0,565.6 L544.0,568.0 L546.0,570.4 L548.0,572.9 L550.0,575.4 L552.0,578.0 L554.0,580.6 L556.0,583.3 L558.0,586.0 L560.0,588.7 L562.0,591.5 L564.0,594.4 L566.0,597.2 L568.0,600.1 L570.0,603.1 L572.0,606.1 L574.0,609.1 L576.0,612.1 L578.0,615.2 L580.0,618.2 L582.0,621.3 L584.0,624.5 L586.0,627.6 L588.0,630.8 L590.0,633.9 L592.0,637.1 L594.0,640.3 L596.0,643.5 L598.0,646.8 L600.0,650.0 L602.0,653.2 L604.0,656.5 L606.0,659.7 L608.0,662.9 L610.0,666.2 L612.0,669.4 L614.0,672.6 L616.0,675.8 L618.0,679.0 L620.0,682.2 L622.0,685.4 L624.0,688.6 L626.0,691.8 L628.0,694.9 L630.0,698.0 L632.0,701.2 L634.0,704.2 L636.0,707.3 L638.0,710.4 L640.0,713.4 L642.0,716.4 L644.0,719.4 L646.0,722.3 L648.0,725.2 L650.0,728.1 L652.0,731.0 L654.0,733.8 L656.0,736.6 L658.0,739.3 L660.0,742.1 L662.0,744.7 L664.0,747.4 L666.0,750.0 L668.0,752.6 L670.0,755.1 L672.0,757.6 L674.0,760.1 L676.0,762.5 L678.0,764.9 L680.0,767.2 L682.0,769.5 L684.0,771.8 L686.0,774.0 L688.0,776.1 L690.0,778.3 L692.0,780.3 L694.0,782.4 L696.0,784.3 L698.0,786.3 L700.0,788.2 L702.0,790.0 L704.0,791.8 L706.0,793.6 L708.0,795.3 L710.0,796.9 L712.0,798.6 L714.0,800.1 L716.0,801.6 L718.0,803.1 L720.0,804.5 L722.0,805.9 L724.0,807.3 L726.0,808.5 L728.0,809.8 L730.0,811.0 L732.0,812.1 L734.0,813.2 L736.0,814.3 L738.0,815.3 L740.0,816.2 L742.0,817.1 L744.0,818.0 L746.0,818.8 L748.0,819.6 L750.0,820.4 L752.0,821.1 L754.0,821.7 L756.0,822.3 L758.0,822.9 L760.0,823.4 L762.0,823.9 L764.0,824.4 L766.0,824.8 L768.0,825.1 L770.0,825.5 L772.0,825.7 L774.0,826.0 L776.0,826.2 L778.0,826.4 L780.0,826.5 L782.0,826.6 L784.0,826.7 L786.0,826.7 L788.0,826.7 L790.0,826.7 L792.0,826.6 L794.0,826.5 L796.0,826.4 L798.0,826.2 L800.0,826.0 L802.0,825.8 L804.0,825.6 L806.0,825.3 L808.0,825.0 L810.0,824.6 L812.0,824.3 L814.0,823.9 L816.0,823.5 L818.0,823.1 L820.0,822.6 L822.0,822.1 L824.0,821.6 L826.0,821.1 L828.0,820.6 L830.0,820.0 L832.0,819.4 L834.0,818.8 L836.0,818.2 L838.0,817.6 L840.0,816.9 L842.0,816.2 L844.0,815.6 L846.0,814.9 L848.0,814.2 L850.0,813.4 L852.0,812.7 L854.0,811.9 L856.0,811.2 L858.0,810.4 L860.0,809.6 L862.0,808.8 L864.0,808.0 L866.0,807.2 L868.0,806.4 L870.0,805.6 L872.0,804.7 L874.0,803.9 L876.0,803.1 L878.0,802.2 L880.0,801.4 L882.0,800.5 L884.0,799.6 L886.0,798.8 L888.0,797.9 L890.0,797.0 L892.0,796.2 L894.0,795.3 L896.0,794.4 L898.0,793.5 L900.0,792.7 L902.0,791.8 L904.0,790.9 L906.0,790.0 L908.0,789.2 L910.0,788.3 L912.0,787.4 L914.0,786.6 L916.0,785.7 L918.0,784.8 L920.0,784.0 L922.0,783.1 L924.0,782.3 L926.0,781.4 L928.0,780.6 L930.0,779.8 L932.0,778.9 L934.0,778.1 L936.0,777.3 L938.0,776.5 L940.0,775.7 L942.0,774.9 L944.0,774.1 L946.0,773.3 L948.0,772.5 L950.0,771.7 L952.0,771.0 L954.0,770.2 L956.0,769.4 L958.0,768.7 L960.0,768.0 L962.0,767.2 L964.0,766.5 L966.0,765.8 L968.0,765.1 L970.0,764.4 L972.0,763.7 L974.0,763.0 L976.0,762.4 L978.0,761.7 L980.0,761.1 L982.0,760.4 L984.0,759.8 L986.0,759.2 L988.0,758.6 L990.0,758.0 L992.0,757.4 L994.0,756.8 L996.0,756.2 L998.0,755.7 L1000.0,755.1 L1002.0,754.6 L1004.0,754.1 L1006.0,753.6 L1008.0,753.0 L1010.0,752.6 L1012.0,752.1 L1014.0,751.6 L1016.0,751.1 L1018.0,750.7 L1020.0,750.2 L1022.0,749.8 L1024.0,749.4 L1026.0,749.0 L1028.0,748.6 L1030.0,748.2 L1032.0,747.9 L1034.0,747.5 L1036.0,747.1 L1038.0,746.8 L1040.0,746.5 L1042.0,746.2 L1044.0,745.9 L1046.0,745.6 L1048.0,745.3 L1050.0,745.1 L1052.0,744.8 L1054.0,744.6 L1056.0,744.4 L1058.0,744.1 L1060.0,744.0 L1062.0,743.8 L1064.0,743.6 L1066.0,743.4 L1068.0,743.3 L1070.0,743.2 L1072.0,743.0 L1074.0,742.9 L1076.0,742.8 L1078.0,742.7 L1080.0,742.7 L1082.0,742.6 L1084.0,742.6 L1086.0,742.5 L1088.0,742.5 L1090.0,742.5 L1092.0,742.5 L1094.0,742.6 L1096.0,742.6 L1098.0,742.7 L1100.0,742.7 L1102.0,742.8 L1104.0,742.9 L1106.0,743.0 L1108.0,743.1 L1110.0,743.2 L1112.0,743.4 L1114.0,743.5 L1116.0,743.7 L1118.0,743.9 L1120.0,744.1 L1122.0,744.3 L1124.0,744.5 L1126.0,744.8 L1128.0,745.0 L1130.0,745.3 L1132.0,745.6 L1134.0,745.9 L1136.0,746.2 L1138.0,746.5 L1140.0,746.9 L1142.0,747.2 L1144.0,747.6 L1146.0,747.9 L1148.0,748.3 L1150.0,748.7 L1152.0,749.1 L1154.0,749.6 L1156.0,750.0 L1158.0,750.5 L1160.0,750.9 L1162.0,751.4 L1164.0,751.9 L1166.0,752.4 L1168.0,753.0 L1170.0,753.5 L1172.0,754.0 L1174.0,754.6 L1176.0,755.2 L1178.0,755.8 L1180.0,756.4 L1182.0,757.0 L1184.0,757.6 L1186.0,758.2 L1188.0,758.9 L1190.0,759.6 L1192.0,760.2 L1194.0,760.9 L1196.0,761.6 L1198.0,762.3 L1200.0,763.1 L1202.0,763.8 L1204.0,764.6 L1206.0,765.3 L1208.0,766.1 L1210.0,766.9 L1212.0,767.7 L1214.0,768.5 L1216.0,769.3 L1218.0,770.2 L1220.0,771.0 L1222.0,771.9 L1224.0,772.7 L1226.0,773.6 L1228.0,774.5 L1230.0,775.4 L1232.0,776.3 L1234.0,777.3 L1236.0,778.2 L1238.0,779.1 L1240.0,780.1 L1242.0,781.1 L1244.0,782.0 L1246.0,783.0 L1248.0,784.0 L1250.0,785.1 L1252.0,786.1 L1254.0,787.1 L1256.0,788.2 L1258.0,789.2 L1260.0,790.3 L1262.0,791.4 L1264.0,792.4 L1266.0,793.5 L1268.0,794.6 L1270.0,795.7 L1272.0,796.9 L1274.0,798.0 L1276.0,799.1 L1278.0,800.3 L1280.0,801.4 L1282.0,802.6 L1284.0,803.8 L1286.0,805.0 L1288.0,806.2 L1290.0,807.4 L1292.0,808.6 L1294.0,809.8 L1296.0,811.0 L1298.0,812.3 L1300.0,813.5 L1302.0,814.8 L1304.0,816.0 L1306.0,817.3 L1308.0,818.6 L1310.0,819.9 L1312.0,821.2 L1314.0,822.5 L1316.0,823.8 L1318.0,825.1 L1320.0,826.4 L1322.0,827.7 L1324.0,829.1 L1326.0,830.4 L1328.0,831.8 L1330.0,833.1 L1332.0,834.5 L1334.0,835.8 L1336.0,837.2 L1338.0,838.6 L1340.0,840.0 L1342.0,841.4 L1344.0,842.8 L1346.0,844.2 L1348.0,845.6 L1350.0,847.0 L1352.0,848.4 L1354.0,849.8 L1356.0,851.3 L1358.0,852.7 L1360.0,854.1 L1362.0,855.6 L1364.0,857.0 L1366.0,858.5 L1368.0,859.9 L1370.0,861.4 L1372.0,862.9 L1374.0,864.4 L1376.0,865.8 L1378.0,867.3 L1380.0,868.8 L1382.0,870.3 L1384.0,871.8 L1386.0,873.3 L1388.0,874.8 L1390.0,876.3 L1392.0,877.8 L1394.0,879.3 L1396.0,880.8 L1398.0,882.3 L1400.0,883.8 L1402.0,885.3 L1404.0,886.8 L1406.0,888.4 L1408.0,889.9 L1410.0,891.4 L1412.0,892.9 L1414.0,894.5 L1416.0,896.0 L1418.0,897.5 L1420.0,899.1 L1422.0,900.6 L1424.0,902.2 L1426.0,903.7 L1428.0,905.2 L1430.0,906.8 L1432.0,908.3 L1434.0,909.9 L1436.0,911.4 L1438.0,913.0 L1440.0,914.5 L1442.0,916.1 L1444.0,917.6 L1446.0,919.2 L1448.0,920.7 L1450.0,922.3 L1452.0,923.8 L1454.0,925.4 L1456.0,926.9 L1458.0,928.5 L1460.0,930.0 L1462.0,931.6 L1464.0,933.1 L1466.0,934.6 L1468.0,936.2 L1470.0,937.7 L1472.0,939.3 L1474.0,940.8 L1476.0,942.4 L1478.0,943.9 L1480.0,945.4 L1482.0,947.0 L1484.0,948.5 L1486.0,950.0 L1488.0,951.6 L1490.0,953.1 L1492.0,954.6 L1494.0,956.2 L1496.0,957.7 L1498.0,959.2 L1500.0,960.7 L1502.0,962.3 L1504.0,963.8 L1506.0,965.3 L1508.0,966.8 L1510.0,968.3 L1512.0,969.8 L1514.0,971.3 L1516.0,972.8 L1518.0,974.3 L1520.0,975.8 L1522.0,977.3 L1524.0,978.8 L1526.0,980.3 L1528.0,981.7 L1530.0,983.2 L1532.0,984.7 L1534.0,986.2 L1536.0,987.6 L1538.0,989.1 L1540.0,990.5 L1542.0,992.0 L1544.0,993.5 L1546.0,994.9 L1548.0,996.3 L1550.0,997.8 L1552.0,999.2 L1554.0,1000.6 L1556.0,1002.1 L1558.0,1003.5 L1560.0,1004.9 L1562.0,1006.3 L1564.0,1007.7 L1566.0,1009.1 L1568.0,1010.5 L1570.0,1011.9 L1572.0,1013.3 L1574.0,1014.7 L1576.0,1016.1 L1578.0,1017.4 L1580.0,1018.8 L1582.0,1020.2 L1584.0,1021.5 L1586.0,1022.9 L1588.0,1024.2 L1590.0,1025.6 L1592.0,1026.9 L1594.0,1028.2 L1596.0,1029.6 L1598.0,1030.9 L1600.0,1032.2 L1602.0,1033.5 L1604.0,1034.8 L1606.0,1036.1 L1608.0,1037.4 L1610.0,1038.7 L1612.0,1039.9 L1614.0,1041.2 L1616.0,1042.5 L1618.0,1043.7 L1620.0,1045.0 L1622.0,1046.2 L1624.0,1047.5 L1626.0,1048.7 L1628.0,1049.9 L1630.0,1051.2 L1632.0,1052.4 L1634.0,1053.6 L1636.0,1054.8 L1638.0,1056.0 L1640.0,1057.2 L1642.0,1058.4 L1644.0,1059.5 L1646.0,1060.7 L1648.0,1061.9 L1650.0,1063.0 L1652.0,1064.2 L1654.0,1065.3 L1656.0,1066.5 L1658.0,1067.6 L1660.0,1068.7 L1662.0,1069.8 L1664.0,1070.9 L1666.0,1072.0 L1668.0,1073.1 L1670.0,1074.2 L1672.0,1075.3 L1674.0,1076.4 L1676.0,1077.5 L1678.0,1078.5 L1680.0,1079.6 L1682.0,1080.6 L1684.0,1081.7 L1686.0,1082.7 L1688.0,1083.7 L1690.0,1084.7 L1692.0,1085.7 L1694.0,1086.8 L1696.0,1087.7 L1698.0,1088.7 L1700.0,1089.7 L1702.0,1090.7 L1704.0,1091.7 L1706.0,1092.6 L1708.0,1093.6 L1710.0,1094.5 L1712.0,1095.5 L1714.0,1096.4 L1716.0,1097.3 L1718.0,1098.2 L1720.0,1099.1 L1722.0,1100.1 L1724.0,1100.9 L1726.0,1101.8 L1728.0,1102.7 L1730.0,1103.6 L1732.0,1104.5 L1734.0,1105.3 L1736.0,1106.2 L1738.0,1107.0 L1740.0,1107.9 L1742.0,1108.7 L1744.0,1109.5 L1746.0,1110.4 L1748.0,1111.2 L1750.0,1112.0 L1752.0,1112.8 L1754.0,1113.6 L1756.0,1114.4 L1758.0,1115.1 L1760.0,1115.9 L1762.0,1116.7 L1764.0,1117.4 L1766.0,1118.2 L1768.0,1118.9 L1770.0,1119.7 L1772.0,1120.4 L1774.0,1121.1 L1776.0,1121.8 L1776.8,1122.1" stroke="#0372E5"/>
<path d="M172.1,805.5 L174.1,804.1 L176.1,802.6 L178.1,801.2 L180.1,799.7 L182.1,798.1 L184.1,796.6 L186.1,795.0 L188.1,793.4 L190.1,791.8 L192.1,790.1 L194.1,788.5 L196.1,786.8 L198.1,785.0 L200.1,783.3 L202.1,781.5 L204.1,779.7 L206.1,777.8 L208.1,776.0 L210.1,774.1 L212.1,772.2 L214.1,770.3 L216.1,768.5 L218.1,766.6 L220.1,764.7 L222.1,762.8 L224.1,760.9 L226.1,758.9 L228.1,756.9 L230.1,754.9 L232.1,752.8 L234.1,750.7 L236.1,748.6 L238.1,746.4 L240.1,744.3 L242.1,742.1 L244.1,739.9 L246.1,737.6 L248.1,735.3 L250.1,733.0 L252.1,730.7 L254.1,728.3 L256.1,725.9 L258.1,723.5 L260.1,721.1 L262.1,718.6 L264.1,716.1 L266.1,713.6 L268.1,711.1 L270.1,708.5 L272.1,705.9 L274.1,703.3 L276.1,700.7 L278.1,698.0 L280.1,695.3 L282.1,692.6 L284.1,689.9 L286.1,687.1 L288.1,684.3 L290.1,681.5 L292.1,678.7 L294.1,675.9 L296.1,673.0 L298.1,670.1 L300.1,667.2 L302.1,664.3 L304.1,661.3 L306.1,658.4 L308.1,655.4 L310.1,652.4 L312.1,649.4 L314.1,646.3 L316.1,643.3 L318.1,640.2 L320.1,637.2 L322.1,634.1 L324.1,631.0 L326.1,627.9 L328.1,624.7 L330.1,621.6 L332.1,618.4 L334.1,615.3 L336.1,612.1 L338.1,608.9 L340.1,605.7 L342.1,602.6 L344.1,599.4 L346.1,596.2 L348.1,592.9 L350.1,589.7 L352.1,586.5 L354.1,583.3 L356.1,580.1 L358.1,576.8 L360.1,573.6 L362.1,570.4 L364.1,567.2 L366.1,564.0 L368.1,560.7 L370.1,557.5 L372.1,554.3 L374.1,551.1 L376.1,547.9 L378.1,544.8 L380.1,541.6 L382.1,538.4 L384.1,535.2 L386.1,532.1 L388.1,529.0 L390.1,525.8 L392.1,522.7 L394.1,519.6 L396.1,516.6 L398.1,513.5 L400.1,510.5 L402.1,507.4 L404.1,504.4 L406.1,501.5 L408.1,498.5 L410.1,495.6 L412.1,492.6 L414.1,489.7 L416.1,486.9 L418.1,484.0 L420.1,481.2 L422.1,478.4 L424.1,475.7 L426.1,473.0 L428.1,470.3 L430.1,467.6 L432.1,465.0 L434.1,462.4 L436.1,459.8 L438.1,457.3 L440.1,454.8 L442.1,452.3 L444.1,449.9 L446.1,447.5 L448.1,445.1 L450.1,442.8 L452.1,440.6 L454.1,438.3 L456.1,436.2 L458.1,434.0 L460.1,431.9 L462.1,429.9 L464.1,427.8 L466.1,425.9 L468.1,424.0 L470.1,422.1 L472.1,420.3 L474.1,418.5 L476.1,416.8 L478.1,415.1 L480.1,413.5 L482.1,411.9 L484.1,410.4 L486.1,408.9 L488.1,407.5 L490.1,406.1 L492.1,404.8 L494.1,403.5 L496.1,402.3 L498.1,401.1 L500.1,400.0 L502.1,399.0 L504.1,398.0 L506.1,397.1 L508.1,396.2 L510.1,395.3 L512.1,394.6 L514.1,393.9 L516.1,393.2 L518.1,392.6 L520.1,392.0 L522.1,391.6 L524.1,391.1 L526.1,390.7 L528.1,390.4 L530.1,390.2 L532.1,390.0 L534.1,389.8 L536.1,389.7 L538.1,389.7 L540.1,389.7 L542.1,389.8 L544.1,389.9 L546.1,390.1 L548.1,390.4 L550.1,390.7 L552.1,391.0 L554.1,391.5 L556.1,391.9 L558.1,392.5 L560.1,393.0 L562.1,393.7 L564.1,394.4 L566.1,395.1 L568.1,395.9 L570.1,396.7 L572.1,397.6 L574.1,398.6 L576.1,399.6 L578.1,400.6 L580.1,401.7 L582.1,402.9 L584.1,404.1 L586.1,405.4 L588.1,406.7 L590.1,408.0 L592.1,409.4 L594.1,410.8 L596.1,412.3 L598.1,413.8 L600.1,415.4 L602.1,417.0 L604.1,418.7 L606.1,420.4 L608.1,422.1 L610.1,423.9 L612.1,425.7 L614.1,427.6 L616.1,429.5 L618.1,431.4 L620.1,433.4 L622.1,435.4 L624.1,437.4 L626.1,439.5 L628.1,441.5 L630.1,443.7 L632.1,445.8 L634.1,448.0 L636.1,450.2 L638.1,452.5 L640.1,454.8 L642.1,457.1 L644.1,459.4 L646.1,461.7 L648.1,464.1 L650.1,466.5 L652.1,468.9 L654.1,471.3 L656.1,473.7 L658.1,476.2 L660.1,478.6 L662.1,481.1 L664.1,483.6 L666.1,486.1 L668.1,488.6 L670.1,491.1 L672.1,493.7 L674.1,496.2 L676.1,498.7 L678.1,501.3 L680.1,503.8 L682.1,506.4 L684.1,508.9 L686.1,511.5 L688.1,514.0 L690.1,516.6 L692.1,519.1 L694.1,521.6 L696.1,524.2 L698.1,526.7 L700.1,529.2 L702.1,531.7 L704.1,534.2 L706.1,536.7 L708.1,539.2 L710.1,541.7 L712.1,544.2 L714.1,546.7 L716.1,549.1 L718.1,551.6 L720.1,554.0 L722.1,556.5 L724.1,558.9 L726.1,561.3 L728.1,563.7 L730.1,566.2 L732.1,568.6 L734.1,571.0 L736.1,573.4 L738.1,575.8 L740.1,578.1 L742.1,580.5 L744.1,582.9 L746.1,585.2 L748.1,587.6 L750.1,589.9 L752.1,592.2 L754.1,594.6 L756.1,596.9 L758.1,599.2 L760.1,601.4 L762.1,603.7 L764.1,605.9 L766.1,608.2 L768.1,610.4 L770.1,612.6 L772.1,614.7 L774.1,616.9 L776.1,619.0 L778.1,621.1 L780.1,623.1 L782.1,625.2 L784.1,627.2 L786.1,629.1 L788.1,631.1 L790.1,633.0 L792.1,634.9 L794.1,636.7 L796.1,638.5 L798.1,640.3 L800.1,642.0 L802.1,643.7 L804.1,645.4 L806.1,647.0 L808.1,648.6 L810.1,650.1 L812.1,651.6 L814.1,653.1 L816.1,654.6 L818.1,656.0 L820.1,657.3 L822.1,658.6 L824.1,659.9 L826.1,661.2 L828.1,662.4 L830.1,663.6 L832.1,664.7 L834.1,665.8 L836.1,666.9 L838.1,667.9 L840.1,668.9 L842.1,669.9 L844.1,670.8 L846.1,671.7 L848.1,672.6 L850.1,673.4 L852.1,674.2 L854.1,675.0 L856.1,675.7 L858.1,676.4 L860.1,677.0 L862.1,677.7 L864.1,678.3 L866.1,678.8 L868.1,679.4 L870.1,679.9 L872.1,680.3 L874.1,680.8 L876.1,681.2 L878.1,681.6 L880.1,681.9 L882.1,682.2 L884.1,682.5 L886.1,682.8 L888.1,683.0 L890.1,683.2 L892.1,683.4 L894.1,683.5 L896.1,683.6 L898.1,683.7 L900.1,683.8 L902.1,683.8 L904.1,683.8 L906.1,683.8 L908.1,683.7 L910.1,683.7 L912.1,683.6 L914.1,683.4 L916.1,683.3 L918.1,683.1 L920.1,682.9 L922.1,682.7 L924.1,682.4 L926.1,682.2 L928.1,681.9 L930.1,681.6 L932.1,681.2 L934.1,680.9 L936.1,680.5 L938.1,680.1 L940.1,679.7 L942.1,679.2 L944.1,678.7 L946.1,678.3 L948.1,677.8 L950.1,677.2 L952.1,676.7 L954.1,676.1 L956.1,675.6 L958.1,675.0 L960.1,674.3 L962.1,673.7 L964.1,673.1 L966.1,672.4 L968.1,671.7 L970.1,671.0 L972.1,670.3 L974.1,669.6 L976.1,668.9 L978.1,668.1 L980.1,667.3 L982.1,666.6 L984.1,665.8 L986.1,665.0 L988.1,664.2 L990.1,663.3 L992.1,662.5 L994.1,661.6 L996.1,660.8 L998.1,659.9 L1000.1,659.0 L1002.1,658.1 L1004.1,657.2 L1006.1,656.3 L1008.1,655.4 L1010.1,654.5 L1012.1,653.5 L1014.1,652.6 L1016.1,651.6 L1018.1,650.7 L1020.1,649.7 L1022.1,648.8 L1024.1,647.8 L1026.1,646.8 L1028.1,645.8 L1030.1,644.8 L1032.1,643.8 L1034.1,642.8 L1036.1,641.8 L1038.1,640.8 L1040.1,639.8 L1042.1,638.8 L1044.1,637.8 L1046.1,636.7 L1048.1,635.7 L1050.1,634.7 L1052.1,633.7 L1054.1,632.6 L1056.1,631.6 L1058.1,630.6 L1060.1,629.5 L1062.1,628.5 L1064.1,627.5 L1066.1,626.4 L1068.1,625.4 L1070.1,624.4 L1072.1,623.4 L1074.1,622.3 L1076.1,621.3 L1078.1,620.3 L1080.1,619.3 L1082.1,618.2 L1084.1,617.2 L1086.1,616.2 L1088.1,615.2 L1090.1,614.2 L1092.1,613.2 L1094.1,612.2 L1096.1,611.2 L1098.1,610.2 L1100.1,609.2 L1102.1,608.2 L1104.1,607.3 L1106.1,606.3 L1108.1,605.3 L1110.1,604.4 L1112.1,603.4 L1114.1,602.5 L1116.1,601.5 L1118.1,600.6 L1120.1,599.7 L1122.1,598.7 L1124.1,597.8 L1126.1,596.9 L1128.1,596.0 L1130.1,595.1 L1132.1,594.2 L1134.1,593.3 L1136.1,592.5 L1138.1,591.6 L1140.1,590.8 L1142.1,589.9 L1144.1,589.1 L1146.1,588.3 L1148.1,587.4 L1150.1,586.6 L1152.1,585.8 L1154.1,585.0 L1156.1,584.3 L1158.1,583.5 L1160.1,582.7 L1162.1,582.0 L1164.1,581.3 L1166.1,580.5 L1168.1,579.8 L1170.1,579.1 L1172.1,578.4 L1174.1,577.7 L1176.1,577.1 L1178.1,576.4 L1180.1,575.7 L1182.1,575.1 L1184.1,574.5 L1186.1,573.9 L1188.1,573.3 L1190.1,572.7 L1192.1,572.1 L1194.1,571.5 L1196.1,571.0 L1198.1,570.4 L1200.1,569.9 L1202.1,569.4 L1204.1,568.9 L1206.1,568.4 L1208.1,567.9 L1210.1,567.4 L1212.1,567.0 L1214.1,566.6 L1216.1,566.1 L1218.1,565.7 L1220.1,565.3 L1222.1,564.9 L1224.1,564.6 L1226.1,564.2 L1228.1,563.9 L1230.1,563.5 L1232.1,563.2 L1234.1,562.9 L1236.1,562.6 L1238.1,562.3 L1240.1,562.1 L1242.1,561.8 L1244.1,561.6 L1246.1,561.4 L1248.1,561.2 L1250.1,561.0 L1252.1,560.8 L1254.1,560.6 L1256.1,560.5 L1258.1,560.3 L1260.1,560.2 L1262.1,560.1 L1264.1,560.0 L1266.1,560.0 L1268.1,559.9 L1270.1,559.8 L1272.1,559.8 L1274.1,559.8 L1276.1,559.8 L1278.1,559.8 L1280.1,559.8 L1282.1,559.9 L1284.1,559.9 L1286.1,560.0 L1288.1,560.1 L1290.1,560.1 L1292.1,560.3 L1294.1,560.4 L1296.1,560.5 L1298.1,560.7 L1300.1,560.8 L1302.1,561.0 L1304.1,561.2 L1306.1,561.4 L1308.1,561.7 L1310.1,561.9 L1312.1,562.1 L1314.1,562.4 L1316.1,562.7 L1318.1,563.0 L1320.1,563.3 L1322.1,563.6 L1324.1,564.0 L1326.1,564.3 L1328.1,564.7 L1330.1,565.1 L1332.1,565.4 L1334.1,565.9 L1336.1,566.3 L1338.1,566.7 L1340.1,567.2 L1342.1,567.6 L1344.1,568.1 L1346.1,568.6 L1348.1,569.1 L1350.1,569.6 L1352.1,570.1 L1354.1,570.7 L1356.1,571.2 L1358.1,571.8 L1360.1,572.4 L1362.1,572.9 L1364.1,573.5 L1366.1,574.2 L1368.1,574.8 L1370.1,575.4 L1372.1,576.1 L1374.1,576.7 L1376.1,577.4 L1378.1,578.1 L1380.1,578.8 L1382.1,579.5 L1384.1,580.3 L1386.1,581.0 L1388.1,581.7 L1390.1,582.5 L1392.1,583.3 L1394.1,584.1 L1396.1,584.8 L1398.1,585.6 L1400.1,586.5 L1402.1,587.3 L1404.1,588.1 L1406.1,589.0 L1408.1,589.8 L1410.1,590.7 L1412.1,591.6 L1414.1,592.5 L1416.1,593.4 L1418.1,594.3 L1420.1,595.2 L1422.1,596.1 L1424.1,597.0 L1426.1,598.0 L1428.1,599.0 L1430.1,599.9 L1432.1,600.9 L1434.1,601.9 L1436.1,602.9 L1438.1,603.9 L1440.1,604.9 L1442.1,605.9 L1444.1,606.9 L1446.1,607.9 L1448.1,609.0 L1450.1,610.0 L1452.1,611.1 L1454.1,612.2 L1456.1,613.2 L1458.1,614.3 L1460.1,615.4 L1462.1,616.5 L1464.1,617.6 L1466.1,618.7 L1468.1,619.8 L1470.1,620.9 L1472.1,622.0 L1474.1,623.2 L1476.1,624.3 L1478.1,625.5 L1480.1,626.6 L1482.1,627.8 L1484.1,628.9 L1486.1,630.1 L1488.1,631.3 L1490.1,632.4 L1492.1,633.6 L1494.1,634.8 L1496.1,636.0 L1498.1,637.2 L1500.1,638.4 L1502.1,639.6 L1504.1,640.8 L1506.1,642.0 L1508.1,643.2 L1510.1,644.5 L1512.1,645.7 L1514.1,646.9 L1516.1,648.1 L1518.1,649.4 L1520.1,650.6 L1522.1,651.9 L1524.1,653.1 L1526.1,654.3 L1528.1,655.6 L1530.1,656.8 L1532.1,658.1 L1534.1,659.4 L1536.1,660.6 L1538.1,661.9 L1540.1,663.1 L1542.1,664.4 L1544.1,665.7 L1546.1,666.9 L1548.1,668.2 L1550.1,669.5 L1552.1,670.7 L1554.1,672.0 L1556.1,673.3 L1558.1,674.5 L1560.1,675.8 L1562.1,677.1 L1564.1,678.3 L1566.1,679.6 L1568.1,680.9 L1570.1,682.2 L1572.1,683.4 L1574.1,684.7 L1576.1,686.0 L1578.1,687.2 L1580.1,688.5 L1582.1,689.8 L1584.1,691.0 L1586.1,692.3 L1588.1,693.6 L1590.1,694.8 L1592.1,696.1 L1594.1,697.3 L1596.1,698.6 L1598.1,699.9 L1600.1,701.1 L1602.1,702.4 L1604.1,703.6 L1606.1,704.9 L1608.1,706.1 L1610.1,707.3 L1612.1,708.6 L1614.1,709.8 L1616.1,711.1 L1618.1,712.3 L1620.1,713.5 L1622.1,714.7 L1624.1,716.0 L1626.1,717.2 L1628.1,718.4 L1630.1,719.6 L1632.1,720.8 L1634.1,722.0 L1636.1,723.2 L1638.1,724.4 L1640.1,725.6 L1642.1,726.8 L1644.1,728.0 L1646.1,729.2 L1648.1,730.4 L1650.1,731.5 L1652.1,732.7 L1654.1,733.9 L1656.1,735.0 L1658.1,736.2 L1660.1,737.3 L1662.1,738.5 L1664.1,739.6 L1666.1,740.8 L1668.1,741.9 L1670.1,743.0 L1672.1,744.1 L1674.1,745.3 L1676.1,746.4 L1678.1,747.5 L1680.1,748.6 L1682.1,749.7 L1684.1,750.8 L1686.1,751.9 L1688.1,752.9 L1690.1,754.0 L1692.1,755.1 L1694.1,756.1 L1696.1,757.2 L1698.1,758.2 L1700.1,759.3 L1702.1,760.3 L1704.1,761.4 L1706.1,762.4 L1708.1,763.4 L1710.1,764.4 L1712.1,765.4 L1714.1,766.4 L1716.1,767.4 L1718.1,768.4 L1720.1,769.4 L1722.1,770.4 L1724.1,771.4 L1726.1,772.3 L1728.1,773.3 L1730.1,774.2 L1732.1,775.2 L1734.1,776.1 L1736.1,777.1 L1738.1,778.0 L1740.1,778.9 L1742.1,779.8 L1744.1,780.7 L1746.1,781.6 L1748.1,782.5 L1750.1,783.4 L1752.1,784.3 L1754.1,785.2 L1756.1,786.0 L1758.1,786.9 L1760.1,787.8 L1762.1,788.7 L1764.1,789.5 L1766.1,790.4 L1768.1,791.3 L1770.1,792.2 L1772.1,793.0 L1774.1,793.9 L1776.1,794.7 L1778.1,795.6 L1780.1,796.4 L1782.1,797.2 L1784.1,798.0 L1786.1,798.8 L1788.1,799.7 L1790.1,800.5 L1792.1,801.2 L1794.1,802.0 L1796.1,802.8 L1798.1,803.6 L1799.2,804.0" stroke="#01AF69"/>
<path d="M171.8,691.8 L173.8,690.4 L175.8,689.0 L177.8,687.6 L179.8,686.1 L181.8,684.6 L183.8,683.1 L185.8,681.6 L187.8,680.0 L189.8,678.4 L191.8,676.8 L193.8,675.2 L195.8,673.5 L197.8,671.8 L199.8,670.1 L201.8,668.3 L203.8,666.5 L205.8,664.7 L207.8,662.9 L209.8,661.0 L211.8,659.1 L213.8,657.2 L215.8,655.3 L217.8,653.4 L219.8,651.5 L221.8,649.5 L223.8,647.5 L225.8,645.4 L227.8,643.4 L229.8,641.3 L231.8,639.2 L233.8,637.0 L235.8,634.8 L237.8,632.6 L239.8,630.4 L241.8,628.2 L243.8,625.9 L245.8,623.6 L247.8,621.2 L249.8,618.9 L251.8,616.5 L253.8,614.0 L255.8,611.6 L257.8,609.1 L259.8,606.6 L261.8,604.1 L263.8,601.6 L265.8,599.0 L267.8,596.4 L269.8,593.8 L271.8,591.1 L273.8,588.5 L275.8,585.8 L277.8,583.1 L279.8,580.3 L281.8,577.6 L283.8,574.8 L285.8,572.0 L287.8,569.2 L289.8,566.3 L291.8,563.5 L293.8,560.6 L295.8,557.7 L297.8,554.8 L299.8,551.8 L301.8,548.9 L303.8,545.9 L305.8,542.9 L307.8,539.9 L309.8,536.9 L311.8,533.9 L313.8,530.8 L315.8,527.8 L317.8,524.7 L319.8,521.6 L321.8,518.5 L323.8,515.4 L325.8,512.3 L327.8,509.2 L329.8,506.1 L331.8,502.9 L333.8,499.8 L335.8,496.6 L337.8,493.5 L339.8,490.3 L341.8,487.2 L343.8,484.0 L345.8,480.8 L347.8,477.7 L349.8,474.5 L351.8,471.3 L353.8,468.2 L355.8,465.0 L357.8,461.8 L359.8,458.7 L361.8,455.5 L363.8,452.4 L365.8,449.3 L367.8,446.1 L369.8,443.0 L371.8,439.9 L373.8,436.8 L375.8,433.7 L377.8,430.6 L379.8,427.5 L381.8,424.5 L383.8,421.5 L385.8,418.4 L387.8,415.4 L389.8,412.5 L391.8,409.5 L393.8,406.5 L395.8,403.6 L397.8,400.7 L399.8,397.8 L401.8,395.0 L403.8,392.1 L405.8,389.3 L407.8,386.5 L409.8,383.8 L411.8,381.1 L413.8,378.4 L415.8,375.7 L417.8,373.0 L419.8,370.4 L421.8,367.9 L423.8,365.3 L425.8,362.8 L427.8,360.3 L429.8,357.9 L431.8,355.5 L433.8,353.2 L435.8,350.8 L437.8,348.5 L439.8,346.3 L441.8,344.1 L443.8,341.9 L445.8,339.8 L447.8,337.7 L449.8,335.7 L451.8,333.7 L453.8,331.8 L455.8,329.9 L457.8,328.0 L459.8,326.2 L461.8,324.5 L463.8,322.8 L465.8,321.1 L467.8,319.5 L469.8,317.9 L471.8,316.4 L473.8,315.0 L475.8,313.6 L477.8,312.2 L479.8,310.9 L481.8,309.7 L483.8,308.5 L485.8,307.3 L487.8,306.2 L489.8,305.2 L491.8,304.2 L493.8,303.3 L495.8,302.4 L497.8,301.6 L499.8,300.8 L501.8,300.1 L503.8,299.5 L505.8,298.9 L507.8,298.4 L509.8,297.9 L511.8,297.5 L513.8,297.1 L515.8,296.8 L517.8,296.5 L519.8,296.3 L521.8,296.2 L523.8,296.1 L525.8,296.1 L527.8,296.1 L529.8,296.2 L531.8,296.3 L533.8,296.5 L535.8,296.8 L537.8,297.1 L539.8,297.5 L541.8,297.9 L543.8,298.3 L545.8,298.9 L547.8,299.4 L549.8,300.1 L551.8,300.8 L553.8,301.5 L555.8,302.3 L557.8,303.1 L559.8,304.0 L561.8,305.0 L563.8,306.0 L565.8,307.0 L567.8,308.1 L569.8,309.2 L571.8,310.4 L573.8,311.7 L575.8,313.0 L577.8,314.3 L579.8,315.7 L581.8,317.1 L583.8,318.5 L585.8,320.0 L587.8,321.6 L589.8,323.2 L591.8,324.8 L593.8,326.5 L595.8,328.2 L597.8,330.0 L599.8,331.7 L601.8,333.6 L603.8,335.4 L605.8,337.3 L607.8,339.3 L609.8,341.2 L611.8,343.2 L613.8,345.2 L615.8,347.3 L617.8,349.4 L619.8,351.5 L621.8,353.7 L623.8,355.8 L625.8,358.0 L627.8,360.3 L629.8,362.5 L631.8,364.8 L633.8,367.1 L635.8,369.4 L637.8,371.7 L639.8,374.1 L641.8,376.4 L643.8,378.8 L645.8,381.2 L647.8,383.7 L649.8,386.1 L651.8,388.6 L653.8,391.0 L655.8,393.5 L657.8,396.0 L659.8,398.5 L661.8,401.0 L663.8,403.5 L665.8,406.0 L667.8,408.5 L669.8,411.0 L671.8,413.6 L673.8,416.1 L675.8,418.6 L677.8,421.1 L679.8,423.7 L681.8,426.2 L683.8,428.7 L685.8,431.3 L687.8,433.8 L689.8,436.3 L691.8,438.8 L693.8,441.3 L695.8,443.8 L697.8,446.3 L699.8,448.7 L701.8,451.2 L703.8,453.6 L705.8,456.1 L707.8,458.5 L709.8,460.9 L711.8,463.3 L713.8,465.7 L715.8,468.0 L717.8,470.4 L719.8,472.7 L721.8,475.0 L723.8,477.3 L725.8,479.6 L727.8,481.8 L729.8,484.1 L731.8,486.3 L733.8,488.5 L735.8,490.6 L737.8,492.8 L739.8,494.9 L741.8,497.0 L743.8,499.1 L745.8,501.1 L747.8,503.1 L749.8,505.1 L751.8,507.1 L753.8,509.1 L755.8,511.0 L757.8,512.9 L759.8,514.8 L761.8,516.6 L763.8,518.4 L765.8,520.2 L767.8,522.0 L769.8,523.8 L771.8,525.5 L773.8,527.2 L775.8,528.8 L777.8,530.5 L779.8,532.1 L781.8,533.7 L783.8,535.2 L785.8,536.8 L787.8,538.3 L789.8,539.7 L791.8,541.2 L793.8,542.6 L795.8,544.0 L797.8,545.4 L799.8,546.7 L801.8,548.0 L803.8,549.3 L805.8,550.5 L807.8,551.7 L809.8,552.9 L811.8,554.1 L813.8,555.2 L815.8,556.3 L817.8,557.4 L819.8,558.5 L821.8,559.5 L823.8,560.5 L825.8,561.4 L827.8,562.3 L829.8,563.2 L831.8,564.1 L833.8,564.9 L835.8,565.7 L837.8,566.5 L839.8,567.2 L841.8,567.9 L843.8,568.6 L845.8,569.3 L847.8,569.9 L849.8,570.5 L851.8,571.0 L853.8,571.5 L855.8,572.0 L857.8,572.5 L859.8,572.9 L861.8,573.3 L863.8,573.7 L865.8,574.0 L867.8,574.3 L869.8,574.6 L871.8,574.9 L873.8,575.1 L875.8,575.3 L877.8,575.5 L879.8,575.6 L881.8,575.7 L883.8,575.8 L885.8,575.8 L887.8,575.9 L889.8,575.9 L891.8,575.8 L893.8,575.8 L895.8,575.7 L897.8,575.6 L899.8,575.5 L901.8,575.3 L903.8,575.2 L905.8,575.0 L907.8,574.7 L909.8,574.5 L911.8,574.2 L913.8,573.9 L915.8,573.6 L917.8,573.3 L919.8,573.0 L921.8,572.6 L923.8,572.2 L925.8,571.8 L927.8,571.4 L929.8,570.9 L931.8,570.4 L933.8,570.0 L935.8,569.5 L937.8,568.9 L939.8,568.4 L941.8,567.9 L943.8,567.3 L945.8,566.7 L947.8,566.1 L949.8,565.5 L951.8,564.9 L953.8,564.2 L955.8,563.6 L957.8,562.9 L959.8,562.2 L961.8,561.5 L963.8,560.8 L965.8,560.1 L967.8,559.4 L969.8,558.6 L971.8,557.9 L973.8,557.1 L975.8,556.3 L977.8,555.6 L979.8,554.8 L981.8,554.0 L983.8,553.2 L985.8,552.3 L987.8,551.5 L989.8,550.7 L991.8,549.8 L993.8,549.0 L995.8,548.1 L997.8,547.3 L999.8,546.4 L1001.8,545.5 L1003.8,544.6 L1005.8,543.7 L1007.8,542.9 L1009.8,542.0 L1011.8,541.1 L1013.8,540.1 L1015.8,539.2 L1017.8,538.3 L1019.8,537.4 L1021.8,536.5 L1023.8,535.6 L1025.8,534.6 L1027.8,533.7 L1029.8,532.8 L1031.8,531.8 L1033.8,530.9 L1035.8,530.0 L1037.8,529.0 L1039.8,528.1 L1041.8,527.2 L1043.8,526.2 L1045.8,525.3 L1047.8,524.4 L1049.8,523.4 L1051.8,522.5 L1053.8,521.5 L1055.8,520.6 L1057.8,519.7 L1059.8,518.8 L1061.8,517.8 L1063.8,516.9 L1065.8,516.0 L1067.8,515.1 L1069.8,514.1 L1071.8,513.2 L1073.8,512.3 L1075.8,511.4 L1077.8,510.5 L1079.8,509.6 L1081.8,508.7 L1083.8,507.8 L1085.8,506.9 L1087.8,506.0 L1089.8,505.1 L1091.8,504.3 L1093.8,503.4 L1095.8,502.5 L1097.8,501.7 L1099.8,500.8 L1101.8,500.0 L1103.8,499.1 L1105.8,498.3 L1107.8,497.5 L1109.8,496.7 L1111.8,495.8 L1113.8,495.0 L1115.8,494.2 L1117.8,493.4 L1119.8,492.6 L1121.8,491.9 L1123.8,491.1 L1125.8,490.3 L1127.8,489.6 L1129.8,488.8 L1131.8,488.1 L1133.8,487.3 L1135.8,486.6 L1137.8,485.9 L1139.8,485.2 L1141.8,484.5 L1143.8,483.8 L1145.8,483.1 L1147.8,482.5 L1149.8,481.8 L1151.8,481.1 L1153.8,480.5 L1155.8,479.9 L1157.8,479.2 L1159.8,478.6 L1161.8,478.0 L1163.8,477.4 L1165.8,476.8 L1167.8,476.3 L1169.8,475.7 L1171.8,475.2 L1173.8,474.6 L1175.8,474.1 L1177.8,473.6 L1179.8,473.0 L1181.8,472.5 L1183.8,472.1 L1185.8,471.6 L1187.8,471.1 L1189.8,470.7 L1191.8,470.2 L1193.8,469.8 L1195.8,469.3 L1197.8,468.9 L1199.8,468.5 L1201.8,468.1 L1203.8,467.8 L1205.8,467.4 L1207.8,467.1 L1209.8,466.7 L1211.8,466.4 L1213.8,466.1 L1215.8,465.8 L1217.8,465.5 L1219.8,465.2 L1221.8,464.9 L1223.8,464.6 L1225.8,464.4 L1227.8,464.2 L1229.8,463.9 L1231.8,463.7 L1233.8,463.5 L1235.8,463.3 L1237.8,463.2 L1239.8,463.0 L1241.8,462.9 L1243.8,462.7 L1245.8,462.6 L1247.8,462.5 L1249.8,462.4 L1251.8,462.3 L1253.8,462.2 L1255.8,462.2 L1257.8,462.1 L1259.8,462.1 L1261.8,462.1 L1263.8,462.0 L1265.8,462.0 L1267.8,462.1 L1269.8,462.1 L1271.8,462.1 L1273.8,462.2 L1275.8,462.2 L1277.8,462.3 L1279.8,462.4 L1281.8,462.5 L1283.8,462.6 L1285.8,462.7 L1287.8,462.9 L1289.8,463.0 L1291.8,463.2 L1293.8,463.3 L1295.8,463.5 L1297.8,463.7 L1299.8,463.9 L1301.8,464.2 L1303.8,464.4 L1305.8,464.6 L1307.8,464.9 L1309.8,465.2 L1311.8,465.5 L1313.8,465.8 L1315.8,466.1 L1317.8,466.4 L1319.8,466.7 L1321.8,467.1 L1323.8,467.4 L1325.8,467.8 L1327.8,468.2 L1329.8,468.5 L1331.8,468.9 L1333.8,469.4 L1335.8,469.8 L1337.8,470.2 L1339.8,470.7 L1341.8,471.1 L1343.8,471.6 L1345.8,472.1 L1347.8,472.6 L1349.8,473.1 L1351.8,473.6 L1353.8,474.1 L1355.8,474.7 L1357.8,475.2 L1359.8,475.8 L1361.8,476.3 L1363.8,476.9 L1365.8,477.5 L1367.8,478.1 L1369.8,478.7 L1371.8,479.3 L1373.8,480.0 L1375.8,480.6 L1377.8,481.3 L1379.8,481.9 L1381.8,482.6 L1383.8,483.3 L1385.8,484.0 L1387.8,484.7 L1389.8,485.4 L1391.8,486.1 L1393.8,486.8 L1395.8,487.6 L1397.8,488.3 L1399.8,489.1 L1401.8,489.8 L1403.8,490.6 L1405.8,491.4 L1407.8,492.2 L1409.8,493.0 L1411.8,493.8 L1413.8,494.6 L1415.8,495.5 L1417.8,496.3 L1419.8,497.1 L1421.8,498.0 L1423.8,498.9 L1425.8,499.7 L1427.8,500.6 L1429.8,501.5 L1431.8,502.4 L1433.8,503.3 L1435.8,504.2 L1437.8,505.1 L1439.8,506.0 L1441.8,507.0 L1443.8,507.9 L1445.8,508.8 L1447.8,509.8 L1449.8,510.7 L1451.8,511.7 L1453.8,512.7 L1455.8,513.7 L1457.8,514.6 L1459.8,515.6 L1461.8,516.6 L1463.8,517.6 L1465.8,518.6 L1467.8,519.6 L1469.8,520.7 L1471.8,521.7 L1473.8,522.7 L1475.8,523.7 L1477.8,524.8 L1479.8,525.8 L1481.8,526.9 L1483.8,527.9 L1485.8,529.0 L1487.8,530.1 L1489.8,531.1 L1491.8,532.2 L1493.8,533.3 L1495.8,534.4 L1497.8,535.4 L1499.8,536.5 L1501.8,537.6 L1503.8,538.7 L1505.8,539.8 L1507.8,540.9 L1509.8,542.0 L1511.8,543.1 L1513.8,544.3 L1515.8,545.4 L1517.8,546.5 L1519.8,547.6 L1521.8,548.7 L1523.8,549.9 L1525.8,551.0 L1527.8,552.1 L1529.8,553.3 L1531.8,554.4 L1533.8,555.5 L1535.8,556.7 L1537.8,557.8 L1539.8,559.0 L1541.8,560.1 L1543.8,561.3 L1545.8,562.4 L1547.8,563.6 L1549.8,564.7 L1551.8,565.9 L1553.8,567.0 L1555.8,568.2 L1557.8,569.3 L1559.8,570.5 L1561.8,571.6 L1563.8,572.8 L1565.8,573.9 L1567.8,575.1 L1569.8,576.3 L1571.8,577.4 L1573.8,578.6 L1575.8,579.7 L1577.8,580.9 L1579.8,582.0 L1581.8,583.2 L1583.8,584.4 L1585.8,585.5 L1587.8,586.7 L1589.8,587.8 L1591.8,589.0 L1593.8,590.1 L1595.8,591.3 L1597.8,592.4 L1599.8,593.6 L1601.8,594.7 L1603.8,595.9 L1605.8,597.0 L1607.8,598.2 L1609.8,599.3 L1611.8,600.4 L1613.8,601.6 L1615.8,602.7 L1617.8,603.8 L1619.8,605.0 L1621.8,606.1 L1623.8,607.2 L1625.8,608.3 L1627.8,609.5 L1629.8,610.6 L1631.8,611.7 L1633.8,612.8 L1635.8,613.9 L1637.8,615.0 L1639.8,616.1 L1641.8,617.2 L1643.8,618.3 L1645.8,619.4 L1647.8,620.5 L1649.8,621.6 L1651.8,622.7 L1653.8,623.8 L1655.8,624.8 L1657.8,625.9 L1659.8,627.0 L1661.8,628.1 L1663.8,629.1 L1665.8,630.2 L1667.8,631.2 L1669.8,632.3 L1671.8,633.3 L1673.8,634.4 L1675.8,635.4 L1677.8,636.4 L1679.8,637.5 L1681.8,638.5 L1683.8,639.5 L1685.8,640.5 L1687.8,641.5 L1689.8,642.6 L1691.8,643.6 L1693.8,644.6 L1695.8,645.5 L1697.8,646.5 L1699.8,647.5 L1701.8,648.5 L1703.8,649.5 L1705.8,650.4 L1707.8,651.4 L1709.8,652.4 L1711.8,653.3 L1713.8,654.3 L1715.8,655.2 L1717.8,656.1 L1719.8,657.1 L1721.8,658.0 L1723.8,658.9 L1725.8,659.8 L1727.8,660.8 L1729.8,661.7 L1731.8,662.6 L1733.8,663.5 L1735.8,664.3 L1737.8,665.2 L1739.8,666.1 L1741.8,667.0 L1743.8,667.8 L1745.8,668.7 L1747.8,669.6 L1749.8,670.4 L1751.8,671.3 L1753.8,672.1 L1755.8,672.9 L1757.8,673.8 L1759.8,674.6 L1761.8,675.5 L1763.8,676.3 L1765.8,677.2 L1767.8,678.0 L1769.8,678.8 L1771.8,679.7 L1773.8,680.5 L1775.8,681.3 L1777.8,682.1 L1779.8,682.9 L1781.8,683.7 L1783.8,684.5 L1785.8,685.3 L1787.8,686.1 L1789.8,686.9 L1791.8,687.6 L1793.8,688.4 L1795.8,689.2 L1797.8,689.9 L1798.3,690.1" stroke="#C27BE4"/>
</g>
<g stroke="#000" stroke-width="6" fill="none">
<rect x="154" y="11" width="1672" height="1360"/>
<line x1="475" y1="1371" x2="475" y2="1398"/><line x1="813" y1="1371" x2="813" y2="1398"/><line x1="1150" y1="1371" x2="1150" y2="1398"/><line x1="1488" y1="1371" x2="1488" y2="1398"/><line x1="306" y1="1371" x2="306" y2="1385"/><line x1="644" y1="1371" x2="644" y2="1385"/><line x1="981" y1="1371" x2="981" y2="1385"/><line x1="1319" y1="1371" x2="1319" y2="1385"/><line x1="1657" y1="1371" x2="1657" y2="1385"/>
</g>
<g font-size="60"><text x="475" y="1460" text-anchor="middle">200</text><text x="813" y="1460" text-anchor="middle">300</text><text x="1150" y="1460" text-anchor="middle">400</text><text x="1488" y="1460" text-anchor="middle">500</text><text x="1826" y="1460" text-anchor="middle">600</text></g>
<g font-size="72"><line x1="1170" y1="75" x2="1310" y2="75" stroke="#767676" stroke-width="8" stroke-linecap="round"/><text x="1343" y="101" textLength="271.8" lengthAdjust="spacingAndGlyphs">Pt/SSZ32</text><line x1="1170" y1="162" x2="1310" y2="162" stroke="#FF4040" stroke-width="8" stroke-linecap="round"/><text x="1343" y="188" textLength="433.2" lengthAdjust="spacingAndGlyphs">Pt/SSZ32-0.3A</text><line x1="1170" y1="249" x2="1310" y2="249" stroke="#0372E5" stroke-width="8" stroke-linecap="round"/><text x="1343" y="275" textLength="433.2" lengthAdjust="spacingAndGlyphs">Pt/SSZ32-0.6A</text><line x1="1170" y1="336" x2="1310" y2="336" stroke="#01AF69" stroke-width="8" stroke-linecap="round"/><text x="1343" y="362" textLength="471.7" lengthAdjust="spacingAndGlyphs">Pt/SSZ32-0.3AS</text><line x1="1170" y1="423" x2="1310" y2="423" stroke="#C27BE4" stroke-width="8" stroke-linecap="round"/><text x="1343" y="449" textLength="471.7" lengthAdjust="spacingAndGlyphs">Pt/SSZ32-0.6AS</text></g>
<text x="992.6" y="1553" font-size="73" font-weight="bold" text-anchor="middle" textLength="511" lengthAdjust="spacingAndGlyphs">Temperature /°C</text>
<text transform="translate(79,692) rotate(-90)" font-size="73" font-weight="bold" text-anchor="middle" textLength="473" lengthAdjust="spacingAndGlyphs">TCD signal/a.u.</text>
</svg>
</body></html>
